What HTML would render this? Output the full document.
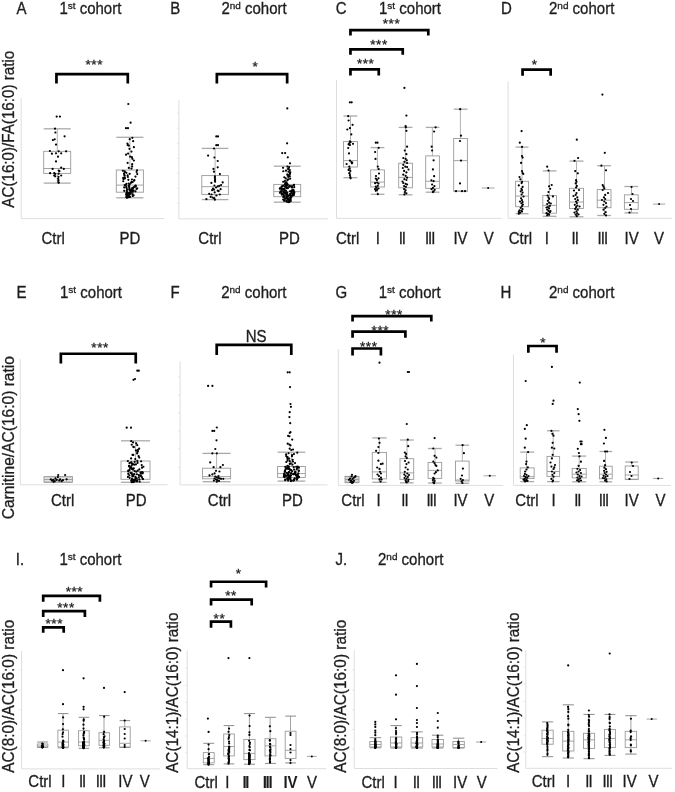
<!DOCTYPE html>
<html><head><meta charset="utf-8"><style>
html,body{margin:0;padding:0;background:#fff;}
body{width:675px;height:792px;overflow:hidden;}
svg{display:block;font-family:"Liberation Sans", sans-serif;}
svg text{fill:#1e1e1e;stroke:#1e1e1e;stroke-width:0.3px;}
</style></head><body>
<svg width="675" height="792" viewBox="0 0 675 792">
<defs><filter id="soft" x="0" y="0" width="1" height="1"><feGaussianBlur stdDeviation="0.3"/></filter></defs>
<rect width="675" height="792" fill="#fff"/>
<g filter="url(#soft)">
<rect width="675" height="792" fill="#fff"/>
<line x1="21.20" y1="98.00" x2="21.20" y2="218.60" stroke="#dedede" stroke-width="1" />
<line x1="21.20" y1="218.60" x2="164.00" y2="218.60" stroke="#dedede" stroke-width="1" />
<line x1="57.30" y1="128.80" x2="57.30" y2="151.30" stroke="#a0a0a0" stroke-width="0.8" />
<line x1="57.30" y1="173.40" x2="57.30" y2="183.10" stroke="#a0a0a0" stroke-width="0.8" />
<line x1="43.70" y1="128.80" x2="70.70" y2="128.80" stroke="#aaaaaa" stroke-width="1.3" />
<line x1="43.70" y1="183.10" x2="70.70" y2="183.10" stroke="#aaaaaa" stroke-width="1.3" />
<rect x="43.70" y="151.30" width="27.00" height="22.10" fill="none" stroke="#9a9a9a" stroke-width="0.9"/>
<line x1="43.70" y1="168.50" x2="70.70" y2="168.50" stroke="#9a9a9a" stroke-width="0.9" />
<circle cx="56.70" cy="116.60" r="1.1"/>
<circle cx="59.90" cy="116.60" r="1.1"/>
<circle cx="55.00" cy="128.70" r="1.1"/>
<circle cx="55.40" cy="132.50" r="1.1"/>
<circle cx="64.60" cy="136.30" r="1.1"/>
<circle cx="52.90" cy="140.10" r="1.1"/>
<circle cx="54.70" cy="139.30" r="1.1"/>
<circle cx="56.00" cy="144.60" r="1.1"/>
<circle cx="49.90" cy="151.00" r="1.1"/>
<circle cx="58.70" cy="151.30" r="1.1"/>
<circle cx="66.10" cy="151.30" r="1.1"/>
<circle cx="51.90" cy="153.70" r="1.1"/>
<circle cx="56.00" cy="153.30" r="1.1"/>
<circle cx="61.20" cy="153.30" r="1.1"/>
<circle cx="58.00" cy="156.70" r="1.1"/>
<circle cx="56.00" cy="161.40" r="1.1"/>
<circle cx="52.60" cy="168.90" r="1.1"/>
<circle cx="61.20" cy="167.70" r="1.1"/>
<circle cx="63.80" cy="168.90" r="1.1"/>
<circle cx="58.70" cy="170.50" r="1.1"/>
<circle cx="59.40" cy="171.20" r="1.1"/>
<circle cx="50.10" cy="173.20" r="1.1"/>
<circle cx="54.20" cy="173.20" r="1.1"/>
<circle cx="55.20" cy="173.90" r="1.1"/>
<circle cx="58.70" cy="173.70" r="1.1"/>
<circle cx="61.20" cy="175.50" r="1.1"/>
<circle cx="54.20" cy="175.50" r="1.1"/>
<circle cx="55.20" cy="176.30" r="1.1"/>
<circle cx="58.50" cy="176.80" r="1.1"/>
<circle cx="58.20" cy="178.80" r="1.1"/>
<circle cx="58.50" cy="180.30" r="1.1"/>
<circle cx="58.40" cy="182.00" r="1.1"/>
<circle cx="58.70" cy="182.80" r="1.1"/>
<line x1="129.90" y1="137.30" x2="129.90" y2="170.00" stroke="#a0a0a0" stroke-width="0.8" />
<line x1="129.90" y1="192.20" x2="129.90" y2="197.80" stroke="#a0a0a0" stroke-width="0.8" />
<line x1="116.30" y1="137.30" x2="143.40" y2="137.30" stroke="#aaaaaa" stroke-width="1.3" />
<line x1="116.30" y1="197.80" x2="143.40" y2="197.80" stroke="#aaaaaa" stroke-width="1.3" />
<rect x="116.30" y="170.00" width="27.10" height="22.20" fill="none" stroke="#9a9a9a" stroke-width="0.9"/>
<line x1="116.30" y1="185.10" x2="143.40" y2="185.10" stroke="#9a9a9a" stroke-width="0.9" />
<circle cx="128.30" cy="104.00" r="1.1"/>
<circle cx="130.60" cy="122.70" r="1.1"/>
<circle cx="126.00" cy="128.20" r="1.1"/>
<circle cx="128.00" cy="128.20" r="1.1"/>
<circle cx="127.04" cy="197.71" r="1.1"/>
<circle cx="126.39" cy="197.34" r="1.1"/>
<circle cx="128.80" cy="197.09" r="1.1"/>
<circle cx="129.96" cy="196.94" r="1.1"/>
<circle cx="129.36" cy="196.67" r="1.1"/>
<circle cx="126.54" cy="196.38" r="1.1"/>
<circle cx="132.58" cy="196.00" r="1.1"/>
<circle cx="127.63" cy="195.81" r="1.1"/>
<circle cx="133.57" cy="195.38" r="1.1"/>
<circle cx="129.05" cy="195.12" r="1.1"/>
<circle cx="126.18" cy="194.73" r="1.1"/>
<circle cx="128.18" cy="194.48" r="1.1"/>
<circle cx="126.77" cy="194.40" r="1.1"/>
<circle cx="132.49" cy="194.07" r="1.1"/>
<circle cx="130.57" cy="193.83" r="1.1"/>
<circle cx="128.85" cy="193.42" r="1.1"/>
<circle cx="126.32" cy="193.17" r="1.1"/>
<circle cx="127.49" cy="193.02" r="1.1"/>
<circle cx="129.31" cy="192.57" r="1.1"/>
<circle cx="130.60" cy="192.39" r="1.1"/>
<circle cx="126.92" cy="192.09" r="1.1"/>
<circle cx="132.87" cy="191.78" r="1.1"/>
<circle cx="131.01" cy="191.67" r="1.1"/>
<circle cx="135.49" cy="191.37" r="1.1"/>
<circle cx="126.74" cy="191.08" r="1.1"/>
<circle cx="124.21" cy="190.78" r="1.1"/>
<circle cx="133.73" cy="190.68" r="1.1"/>
<circle cx="129.74" cy="190.51" r="1.1"/>
<circle cx="132.41" cy="190.30" r="1.1"/>
<circle cx="130.99" cy="189.89" r="1.1"/>
<circle cx="127.12" cy="189.63" r="1.1"/>
<circle cx="131.31" cy="189.43" r="1.1"/>
<circle cx="129.25" cy="189.22" r="1.1"/>
<circle cx="136.53" cy="188.92" r="1.1"/>
<circle cx="132.35" cy="188.77" r="1.1"/>
<circle cx="132.90" cy="188.64" r="1.1"/>
<circle cx="137.25" cy="188.26" r="1.1"/>
<circle cx="126.69" cy="187.98" r="1.1"/>
<circle cx="132.41" cy="187.85" r="1.1"/>
<circle cx="129.33" cy="187.70" r="1.1"/>
<circle cx="124.19" cy="187.43" r="1.1"/>
<circle cx="133.90" cy="187.22" r="1.1"/>
<circle cx="126.14" cy="186.96" r="1.1"/>
<circle cx="135.44" cy="186.66" r="1.1"/>
<circle cx="129.14" cy="186.50" r="1.1"/>
<circle cx="135.61" cy="186.15" r="1.1"/>
<circle cx="135.33" cy="185.85" r="1.1"/>
<circle cx="128.64" cy="185.74" r="1.1"/>
<circle cx="135.63" cy="185.49" r="1.1"/>
<circle cx="124.70" cy="185.11" r="1.1"/>
<circle cx="125.90" cy="185.01" r="1.1"/>
<circle cx="129.68" cy="184.48" r="1.1"/>
<circle cx="126.36" cy="183.80" r="1.1"/>
<circle cx="128.69" cy="183.59" r="1.1"/>
<circle cx="130.89" cy="182.90" r="1.1"/>
<circle cx="132.74" cy="182.10" r="1.1"/>
<circle cx="131.65" cy="181.82" r="1.1"/>
<circle cx="123.25" cy="181.24" r="1.1"/>
<circle cx="134.07" cy="180.62" r="1.1"/>
<circle cx="134.34" cy="180.13" r="1.1"/>
<circle cx="128.39" cy="179.87" r="1.1"/>
<circle cx="131.90" cy="179.51" r="1.1"/>
<circle cx="123.45" cy="179.03" r="1.1"/>
<circle cx="124.87" cy="178.45" r="1.1"/>
<circle cx="123.23" cy="177.88" r="1.1"/>
<circle cx="124.70" cy="177.55" r="1.1"/>
<circle cx="127.87" cy="177.00" r="1.1"/>
<circle cx="135.48" cy="176.53" r="1.1"/>
<circle cx="124.66" cy="175.73" r="1.1"/>
<circle cx="127.63" cy="175.41" r="1.1"/>
<circle cx="124.28" cy="174.85" r="1.1"/>
<circle cx="137.25" cy="174.10" r="1.1"/>
<circle cx="129.66" cy="173.79" r="1.1"/>
<circle cx="123.97" cy="173.48" r="1.1"/>
<circle cx="126.39" cy="172.85" r="1.1"/>
<circle cx="124.85" cy="172.10" r="1.1"/>
<circle cx="136.62" cy="172.00" r="1.1"/>
<circle cx="124.63" cy="171.24" r="1.1"/>
<circle cx="122.85" cy="170.73" r="1.1"/>
<circle cx="137.03" cy="170.24" r="1.1"/>
<circle cx="131.51" cy="168.59" r="1.1"/>
<circle cx="128.81" cy="167.94" r="1.1"/>
<circle cx="132.13" cy="166.46" r="1.1"/>
<circle cx="132.19" cy="164.22" r="1.1"/>
<circle cx="127.63" cy="162.92" r="1.1"/>
<circle cx="133.88" cy="160.50" r="1.1"/>
<circle cx="132.41" cy="158.80" r="1.1"/>
<circle cx="131.87" cy="157.22" r="1.1"/>
<circle cx="130.04" cy="156.55" r="1.1"/>
<circle cx="126.04" cy="154.70" r="1.1"/>
<circle cx="128.09" cy="153.60" r="1.1"/>
<circle cx="131.48" cy="151.59" r="1.1"/>
<circle cx="129.47" cy="148.82" r="1.1"/>
<circle cx="133.90" cy="147.21" r="1.1"/>
<circle cx="128.79" cy="145.55" r="1.1"/>
<circle cx="127.66" cy="145.11" r="1.1"/>
<circle cx="127.48" cy="143.52" r="1.1"/>
<circle cx="133.18" cy="141.18" r="1.1"/>
<circle cx="129.73" cy="139.20" r="1.1"/>
<circle cx="132.36" cy="137.87" r="1.1"/>
<path d="M56.45,83.40 V74.20 H127.80 V83.40" fill="none" stroke="#000" stroke-width="2.7" stroke-linejoin="miter"/>
<text x="94.30" y="69.00" font-size="13.5" text-anchor="middle" letter-spacing="0.6">***</text>
<text x="0" y="0" transform="translate(53.10,243.70) scale(1,1.08)" font-size="15" text-anchor="middle" >Ctrl</text>
<text x="0" y="0" transform="translate(130.00,243.70) scale(1,1.08)" font-size="15" text-anchor="middle" >PD</text>
<text x="0" y="0" font-size="15.5" text-anchor="middle" textLength="157.0" lengthAdjust="spacingAndGlyphs" transform="translate(14.00,129.20) rotate(-90) scale(1,1.05)">AC(16:0)/FA(16:0) ratio</text>
<line x1="178.90" y1="100.00" x2="178.90" y2="218.80" stroke="#dedede" stroke-width="1" />
<line x1="178.90" y1="218.80" x2="328.00" y2="218.80" stroke="#dedede" stroke-width="1" />
<line x1="176.90" y1="113.30" x2="178.90" y2="113.30" stroke="#e2e2e2" stroke-width="1" />
<line x1="176.90" y1="128.20" x2="178.90" y2="128.20" stroke="#e2e2e2" stroke-width="1" />
<line x1="176.90" y1="143.30" x2="178.90" y2="143.30" stroke="#e2e2e2" stroke-width="1" />
<line x1="176.90" y1="158.40" x2="178.90" y2="158.40" stroke="#e2e2e2" stroke-width="1" />
<line x1="176.90" y1="173.30" x2="178.90" y2="173.30" stroke="#e2e2e2" stroke-width="1" />
<line x1="176.90" y1="188.40" x2="178.90" y2="188.40" stroke="#e2e2e2" stroke-width="1" />
<line x1="176.90" y1="203.30" x2="178.90" y2="203.30" stroke="#e2e2e2" stroke-width="1" />
<line x1="215.10" y1="148.40" x2="215.10" y2="175.60" stroke="#a0a0a0" stroke-width="0.8" />
<line x1="215.10" y1="194.40" x2="215.10" y2="199.60" stroke="#a0a0a0" stroke-width="0.8" />
<line x1="201.80" y1="148.40" x2="228.40" y2="148.40" stroke="#aaaaaa" stroke-width="1.3" />
<line x1="201.80" y1="199.60" x2="228.40" y2="199.60" stroke="#aaaaaa" stroke-width="1.3" />
<rect x="201.80" y="175.60" width="26.60" height="18.80" fill="none" stroke="#9a9a9a" stroke-width="0.9"/>
<line x1="201.80" y1="186.70" x2="228.40" y2="186.70" stroke="#9a9a9a" stroke-width="0.9" />
<circle cx="216.30" cy="136.40" r="1.1"/>
<circle cx="218.00" cy="136.40" r="1.1"/>
<circle cx="216.30" cy="145.20" r="1.1"/>
<circle cx="218.00" cy="145.20" r="1.1"/>
<circle cx="214.00" cy="148.50" r="1.1"/>
<circle cx="208.10" cy="155.60" r="1.1"/>
<circle cx="214.40" cy="157.50" r="1.1"/>
<circle cx="217.70" cy="161.00" r="1.1"/>
<circle cx="217.70" cy="167.30" r="1.1"/>
<circle cx="213.50" cy="168.90" r="1.1"/>
<circle cx="214.00" cy="171.70" r="1.1"/>
<circle cx="219.90" cy="174.10" r="1.1"/>
<circle cx="214.90" cy="176.40" r="1.1"/>
<circle cx="214.90" cy="177.90" r="1.1"/>
<circle cx="215.10" cy="179.30" r="1.1"/>
<circle cx="214.90" cy="180.70" r="1.1"/>
<circle cx="215.10" cy="181.70" r="1.1"/>
<circle cx="211.40" cy="182.90" r="1.1"/>
<circle cx="222.70" cy="182.40" r="1.1"/>
<circle cx="214.40" cy="185.50" r="1.1"/>
<circle cx="217.70" cy="186.40" r="1.1"/>
<circle cx="221.10" cy="185.00" r="1.1"/>
<circle cx="219.20" cy="185.90" r="1.1"/>
<circle cx="212.10" cy="190.20" r="1.1"/>
<circle cx="214.00" cy="189.70" r="1.1"/>
<circle cx="217.70" cy="190.70" r="1.1"/>
<circle cx="218.70" cy="191.10" r="1.1"/>
<circle cx="220.60" cy="189.20" r="1.1"/>
<circle cx="214.70" cy="192.40" r="1.1"/>
<circle cx="209.20" cy="193.80" r="1.1"/>
<circle cx="211.60" cy="194.50" r="1.1"/>
<circle cx="219.80" cy="194.50" r="1.1"/>
<circle cx="210.60" cy="196.80" r="1.1"/>
<circle cx="212.50" cy="197.50" r="1.1"/>
<circle cx="214.00" cy="198.20" r="1.1"/>
<circle cx="214.90" cy="199.70" r="1.1"/>
<circle cx="206.40" cy="199.20" r="1.1"/>
<circle cx="216.00" cy="187.50" r="1.1"/>
<circle cx="213.00" cy="188.50" r="1.1"/>
<circle cx="216.50" cy="195.50" r="1.1"/>
<line x1="287.10" y1="166.20" x2="287.10" y2="184.40" stroke="#a0a0a0" stroke-width="0.8" />
<line x1="287.10" y1="196.70" x2="287.10" y2="202.20" stroke="#a0a0a0" stroke-width="0.8" />
<line x1="273.80" y1="166.20" x2="300.70" y2="166.20" stroke="#aaaaaa" stroke-width="1.3" />
<line x1="273.80" y1="202.20" x2="300.70" y2="202.20" stroke="#aaaaaa" stroke-width="1.3" />
<rect x="273.80" y="184.40" width="26.90" height="12.30" fill="none" stroke="#9a9a9a" stroke-width="0.9"/>
<line x1="273.80" y1="191.60" x2="300.70" y2="191.60" stroke="#9a9a9a" stroke-width="0.9" />
<circle cx="287.30" cy="108.40" r="1.1"/>
<circle cx="287.10" cy="143.30" r="1.1"/>
<circle cx="282.20" cy="153.10" r="1.1"/>
<circle cx="285.10" cy="153.10" r="1.1"/>
<circle cx="287.80" cy="157.30" r="1.1"/>
<circle cx="290.00" cy="163.30" r="1.1"/>
<circle cx="288.41" cy="202.18" r="1.1"/>
<circle cx="289.40" cy="201.82" r="1.1"/>
<circle cx="286.92" cy="201.66" r="1.1"/>
<circle cx="289.45" cy="201.58" r="1.1"/>
<circle cx="289.55" cy="201.35" r="1.1"/>
<circle cx="286.25" cy="201.03" r="1.1"/>
<circle cx="290.74" cy="200.94" r="1.1"/>
<circle cx="284.41" cy="200.68" r="1.1"/>
<circle cx="284.26" cy="200.60" r="1.1"/>
<circle cx="289.59" cy="200.25" r="1.1"/>
<circle cx="289.76" cy="200.21" r="1.1"/>
<circle cx="288.38" cy="199.85" r="1.1"/>
<circle cx="287.50" cy="199.77" r="1.1"/>
<circle cx="283.15" cy="199.62" r="1.1"/>
<circle cx="288.32" cy="199.26" r="1.1"/>
<circle cx="290.63" cy="199.15" r="1.1"/>
<circle cx="290.12" cy="198.97" r="1.1"/>
<circle cx="284.75" cy="198.70" r="1.1"/>
<circle cx="285.42" cy="198.61" r="1.1"/>
<circle cx="287.80" cy="198.42" r="1.1"/>
<circle cx="286.44" cy="198.22" r="1.1"/>
<circle cx="290.44" cy="198.05" r="1.1"/>
<circle cx="286.76" cy="197.81" r="1.1"/>
<circle cx="290.39" cy="197.57" r="1.1"/>
<circle cx="290.50" cy="197.40" r="1.1"/>
<circle cx="287.36" cy="197.19" r="1.1"/>
<circle cx="283.18" cy="196.99" r="1.1"/>
<circle cx="284.52" cy="196.81" r="1.1"/>
<circle cx="291.53" cy="196.70" r="1.1"/>
<circle cx="286.71" cy="196.56" r="1.1"/>
<circle cx="287.94" cy="196.37" r="1.1"/>
<circle cx="287.37" cy="196.30" r="1.1"/>
<circle cx="291.31" cy="196.15" r="1.1"/>
<circle cx="287.99" cy="196.08" r="1.1"/>
<circle cx="283.80" cy="195.94" r="1.1"/>
<circle cx="287.21" cy="195.76" r="1.1"/>
<circle cx="290.95" cy="195.66" r="1.1"/>
<circle cx="286.26" cy="195.50" r="1.1"/>
<circle cx="287.18" cy="195.41" r="1.1"/>
<circle cx="289.95" cy="195.30" r="1.1"/>
<circle cx="287.59" cy="195.19" r="1.1"/>
<circle cx="293.63" cy="195.06" r="1.1"/>
<circle cx="292.67" cy="194.92" r="1.1"/>
<circle cx="283.54" cy="194.76" r="1.1"/>
<circle cx="293.66" cy="194.69" r="1.1"/>
<circle cx="281.73" cy="194.53" r="1.1"/>
<circle cx="286.24" cy="194.50" r="1.1"/>
<circle cx="283.26" cy="194.38" r="1.1"/>
<circle cx="289.61" cy="194.26" r="1.1"/>
<circle cx="292.97" cy="194.05" r="1.1"/>
<circle cx="290.30" cy="194.01" r="1.1"/>
<circle cx="281.82" cy="193.83" r="1.1"/>
<circle cx="294.02" cy="193.68" r="1.1"/>
<circle cx="293.79" cy="193.64" r="1.1"/>
<circle cx="286.91" cy="193.49" r="1.1"/>
<circle cx="292.02" cy="193.30" r="1.1"/>
<circle cx="286.09" cy="193.28" r="1.1"/>
<circle cx="284.72" cy="193.12" r="1.1"/>
<circle cx="284.42" cy="193.03" r="1.1"/>
<circle cx="279.99" cy="192.85" r="1.1"/>
<circle cx="286.22" cy="192.75" r="1.1"/>
<circle cx="284.61" cy="192.69" r="1.1"/>
<circle cx="287.28" cy="192.50" r="1.1"/>
<circle cx="294.28" cy="192.44" r="1.1"/>
<circle cx="294.08" cy="192.23" r="1.1"/>
<circle cx="283.63" cy="192.19" r="1.1"/>
<circle cx="291.23" cy="192.08" r="1.1"/>
<circle cx="281.62" cy="191.93" r="1.1"/>
<circle cx="293.19" cy="191.79" r="1.1"/>
<circle cx="283.53" cy="191.62" r="1.1"/>
<circle cx="293.30" cy="191.57" r="1.1"/>
<circle cx="290.07" cy="191.33" r="1.1"/>
<circle cx="280.55" cy="191.24" r="1.1"/>
<circle cx="286.00" cy="190.97" r="1.1"/>
<circle cx="293.59" cy="190.90" r="1.1"/>
<circle cx="291.56" cy="190.63" r="1.1"/>
<circle cx="292.37" cy="190.56" r="1.1"/>
<circle cx="292.47" cy="190.39" r="1.1"/>
<circle cx="284.72" cy="190.15" r="1.1"/>
<circle cx="293.41" cy="189.96" r="1.1"/>
<circle cx="281.61" cy="189.84" r="1.1"/>
<circle cx="283.23" cy="189.62" r="1.1"/>
<circle cx="282.09" cy="189.52" r="1.1"/>
<circle cx="282.69" cy="189.36" r="1.1"/>
<circle cx="284.22" cy="189.15" r="1.1"/>
<circle cx="283.99" cy="188.90" r="1.1"/>
<circle cx="282.33" cy="188.77" r="1.1"/>
<circle cx="279.97" cy="188.63" r="1.1"/>
<circle cx="279.93" cy="188.47" r="1.1"/>
<circle cx="287.86" cy="188.22" r="1.1"/>
<circle cx="286.73" cy="188.14" r="1.1"/>
<circle cx="281.27" cy="187.84" r="1.1"/>
<circle cx="286.10" cy="187.69" r="1.1"/>
<circle cx="292.05" cy="187.57" r="1.1"/>
<circle cx="287.20" cy="187.42" r="1.1"/>
<circle cx="294.24" cy="187.20" r="1.1"/>
<circle cx="292.02" cy="187.08" r="1.1"/>
<circle cx="289.11" cy="186.85" r="1.1"/>
<circle cx="284.84" cy="186.73" r="1.1"/>
<circle cx="281.62" cy="186.62" r="1.1"/>
<circle cx="290.66" cy="186.45" r="1.1"/>
<circle cx="282.12" cy="186.24" r="1.1"/>
<circle cx="292.15" cy="186.10" r="1.1"/>
<circle cx="289.62" cy="185.79" r="1.1"/>
<circle cx="283.29" cy="185.72" r="1.1"/>
<circle cx="286.50" cy="185.55" r="1.1"/>
<circle cx="286.30" cy="185.40" r="1.1"/>
<circle cx="293.93" cy="185.21" r="1.1"/>
<circle cx="287.80" cy="184.92" r="1.1"/>
<circle cx="293.99" cy="184.87" r="1.1"/>
<circle cx="284.98" cy="184.69" r="1.1"/>
<circle cx="285.35" cy="184.57" r="1.1"/>
<circle cx="287.12" cy="184.09" r="1.1"/>
<circle cx="287.14" cy="183.62" r="1.1"/>
<circle cx="285.18" cy="183.10" r="1.1"/>
<circle cx="286.28" cy="182.39" r="1.1"/>
<circle cx="283.21" cy="181.77" r="1.1"/>
<circle cx="284.93" cy="180.95" r="1.1"/>
<circle cx="287.34" cy="180.12" r="1.1"/>
<circle cx="288.38" cy="179.36" r="1.1"/>
<circle cx="290.18" cy="178.73" r="1.1"/>
<circle cx="285.69" cy="178.30" r="1.1"/>
<circle cx="284.25" cy="177.26" r="1.1"/>
<circle cx="288.27" cy="176.78" r="1.1"/>
<circle cx="289.83" cy="176.57" r="1.1"/>
<circle cx="288.14" cy="175.37" r="1.1"/>
<circle cx="289.64" cy="174.82" r="1.1"/>
<circle cx="287.29" cy="174.56" r="1.1"/>
<circle cx="289.83" cy="173.67" r="1.1"/>
<circle cx="289.76" cy="172.83" r="1.1"/>
<circle cx="290.30" cy="172.32" r="1.1"/>
<circle cx="288.67" cy="171.61" r="1.1"/>
<circle cx="283.28" cy="171.25" r="1.1"/>
<circle cx="285.97" cy="170.66" r="1.1"/>
<circle cx="289.83" cy="170.03" r="1.1"/>
<circle cx="288.14" cy="169.09" r="1.1"/>
<circle cx="288.57" cy="168.39" r="1.1"/>
<circle cx="283.06" cy="167.83" r="1.1"/>
<circle cx="289.12" cy="166.98" r="1.1"/>
<circle cx="287.39" cy="166.52" r="1.1"/>
<path d="M216.85,83.40 V74.20 H287.15 V83.40" fill="none" stroke="#000" stroke-width="2.7" stroke-linejoin="miter"/>
<text x="255.50" y="70.50" font-size="13.5" text-anchor="middle" letter-spacing="0.6">*</text>
<text x="0" y="0" transform="translate(210.00,243.70) scale(1,1.08)" font-size="15" text-anchor="middle" >Ctrl</text>
<text x="0" y="0" transform="translate(289.50,243.70) scale(1,1.08)" font-size="15" text-anchor="middle" >PD</text>
<line x1="336.50" y1="80.00" x2="336.50" y2="218.40" stroke="#dedede" stroke-width="1" />
<line x1="336.50" y1="218.40" x2="501.70" y2="218.40" stroke="#dedede" stroke-width="1" />
<line x1="350.50" y1="116.00" x2="350.50" y2="141.60" stroke="#a0a0a0" stroke-width="0.8" />
<line x1="350.50" y1="167.00" x2="350.50" y2="177.70" stroke="#a0a0a0" stroke-width="0.8" />
<line x1="343.50" y1="116.00" x2="357.50" y2="116.00" stroke="#aaaaaa" stroke-width="1.3" />
<line x1="343.50" y1="177.70" x2="357.50" y2="177.70" stroke="#aaaaaa" stroke-width="1.3" />
<rect x="343.50" y="141.60" width="14.00" height="25.40" fill="none" stroke="#9a9a9a" stroke-width="0.9"/>
<line x1="343.50" y1="160.60" x2="357.50" y2="160.60" stroke="#9a9a9a" stroke-width="0.9" />
<circle cx="349.90" cy="102.30" r="1.1"/>
<circle cx="351.70" cy="102.30" r="1.1"/>
<circle cx="348.20" cy="116.20" r="1.1"/>
<circle cx="348.60" cy="120.50" r="1.1"/>
<circle cx="352.60" cy="124.80" r="1.1"/>
<circle cx="347.30" cy="129.50" r="1.1"/>
<circle cx="349.90" cy="128.20" r="1.1"/>
<circle cx="351.30" cy="134.40" r="1.1"/>
<circle cx="349.90" cy="141.40" r="1.1"/>
<circle cx="350.60" cy="142.10" r="1.1"/>
<circle cx="349.30" cy="143.40" r="1.1"/>
<circle cx="353.00" cy="143.80" r="1.1"/>
<circle cx="348.60" cy="144.30" r="1.1"/>
<circle cx="349.90" cy="145.10" r="1.1"/>
<circle cx="348.20" cy="148.00" r="1.1"/>
<circle cx="349.00" cy="153.40" r="1.1"/>
<circle cx="349.90" cy="160.60" r="1.1"/>
<circle cx="351.30" cy="162.00" r="1.1"/>
<circle cx="352.20" cy="162.60" r="1.1"/>
<circle cx="346.60" cy="164.00" r="1.1"/>
<circle cx="351.90" cy="163.30" r="1.1"/>
<circle cx="349.30" cy="166.60" r="1.1"/>
<circle cx="349.50" cy="168.60" r="1.1"/>
<circle cx="348.60" cy="169.90" r="1.1"/>
<circle cx="350.30" cy="170.90" r="1.1"/>
<circle cx="349.30" cy="173.20" r="1.1"/>
<circle cx="349.90" cy="175.20" r="1.1"/>
<circle cx="350.30" cy="177.20" r="1.1"/>
<circle cx="350.60" cy="178.30" r="1.1"/>
<line x1="377.40" y1="147.60" x2="377.40" y2="169.90" stroke="#a0a0a0" stroke-width="0.8" />
<line x1="377.40" y1="187.00" x2="377.40" y2="194.30" stroke="#a0a0a0" stroke-width="0.8" />
<line x1="370.70" y1="147.60" x2="384.40" y2="147.60" stroke="#aaaaaa" stroke-width="1.3" />
<line x1="370.70" y1="194.30" x2="384.40" y2="194.30" stroke="#aaaaaa" stroke-width="1.3" />
<rect x="370.70" y="169.90" width="13.70" height="17.10" fill="none" stroke="#9a9a9a" stroke-width="0.9"/>
<line x1="370.70" y1="182.10" x2="384.40" y2="182.10" stroke="#9a9a9a" stroke-width="0.9" />
<circle cx="375.80" cy="142.70" r="1.1"/>
<circle cx="377.50" cy="142.70" r="1.1"/>
<circle cx="378.70" cy="147.80" r="1.1"/>
<circle cx="375.10" cy="152.00" r="1.1"/>
<circle cx="375.50" cy="158.90" r="1.1"/>
<circle cx="377.80" cy="166.60" r="1.1"/>
<circle cx="378.70" cy="169.00" r="1.1"/>
<circle cx="375.80" cy="178.60" r="1.1"/>
<circle cx="378.50" cy="178.30" r="1.1"/>
<circle cx="376.90" cy="179.90" r="1.1"/>
<circle cx="375.10" cy="183.20" r="1.1"/>
<circle cx="377.10" cy="182.50" r="1.1"/>
<circle cx="378.50" cy="183.60" r="1.1"/>
<circle cx="375.80" cy="186.50" r="1.1"/>
<circle cx="377.80" cy="185.80" r="1.1"/>
<circle cx="376.50" cy="187.80" r="1.1"/>
<circle cx="375.10" cy="189.20" r="1.1"/>
<circle cx="377.10" cy="189.80" r="1.1"/>
<circle cx="375.80" cy="190.80" r="1.1"/>
<circle cx="378.50" cy="188.50" r="1.1"/>
<circle cx="377.80" cy="194.20" r="1.1"/>
<circle cx="376.00" cy="176.00" r="1.1"/>
<circle cx="379.00" cy="173.50" r="1.1"/>
<line x1="405.40" y1="127.40" x2="405.40" y2="163.20" stroke="#a0a0a0" stroke-width="0.8" />
<line x1="405.40" y1="187.80" x2="405.40" y2="194.80" stroke="#a0a0a0" stroke-width="0.8" />
<line x1="398.70" y1="127.40" x2="412.40" y2="127.40" stroke="#aaaaaa" stroke-width="1.3" />
<line x1="398.70" y1="194.80" x2="412.40" y2="194.80" stroke="#aaaaaa" stroke-width="1.3" />
<rect x="398.70" y="163.20" width="13.70" height="24.60" fill="none" stroke="#9a9a9a" stroke-width="0.9"/>
<line x1="398.70" y1="177.40" x2="412.40" y2="177.40" stroke="#9a9a9a" stroke-width="0.9" />
<circle cx="404.40" cy="87.90" r="1.1"/>
<circle cx="406.40" cy="115.60" r="1.1"/>
<circle cx="405.60" cy="126.20" r="1.1"/>
<circle cx="405.90" cy="127.30" r="1.1"/>
<circle cx="406.40" cy="130.80" r="1.1"/>
<circle cx="407.10" cy="146.70" r="1.1"/>
<circle cx="404.80" cy="150.50" r="1.1"/>
<circle cx="406.40" cy="154.20" r="1.1"/>
<circle cx="403.30" cy="158.00" r="1.1"/>
<circle cx="405.60" cy="158.80" r="1.1"/>
<circle cx="406.80" cy="160.30" r="1.1"/>
<circle cx="404.40" cy="161.80" r="1.1"/>
<circle cx="407.10" cy="163.00" r="1.1"/>
<circle cx="403.30" cy="164.80" r="1.1"/>
<circle cx="405.30" cy="166.70" r="1.1"/>
<circle cx="407.10" cy="167.10" r="1.1"/>
<circle cx="404.10" cy="170.90" r="1.1"/>
<circle cx="406.40" cy="172.40" r="1.1"/>
<circle cx="403.30" cy="174.70" r="1.1"/>
<circle cx="405.60" cy="175.80" r="1.1"/>
<circle cx="407.10" cy="177.70" r="1.1"/>
<circle cx="404.40" cy="179.20" r="1.1"/>
<circle cx="406.40" cy="180.00" r="1.1"/>
<circle cx="403.30" cy="183.00" r="1.1"/>
<circle cx="405.60" cy="183.80" r="1.1"/>
<circle cx="407.10" cy="184.50" r="1.1"/>
<circle cx="404.10" cy="186.10" r="1.1"/>
<circle cx="405.90" cy="186.80" r="1.1"/>
<circle cx="404.10" cy="189.10" r="1.1"/>
<circle cx="405.60" cy="190.30" r="1.1"/>
<circle cx="404.80" cy="192.10" r="1.1"/>
<circle cx="406.40" cy="193.30" r="1.1"/>
<circle cx="404.40" cy="194.40" r="1.1"/>
<circle cx="402.50" cy="181.50" r="1.1"/>
<circle cx="408.50" cy="169.50" r="1.1"/>
<circle cx="402.80" cy="168.00" r="1.1"/>
<line x1="432.40" y1="127.40" x2="432.40" y2="155.90" stroke="#a0a0a0" stroke-width="0.8" />
<line x1="432.40" y1="188.30" x2="432.40" y2="192.20" stroke="#a0a0a0" stroke-width="0.8" />
<line x1="425.70" y1="127.40" x2="439.40" y2="127.40" stroke="#aaaaaa" stroke-width="1.3" />
<line x1="425.70" y1="192.20" x2="439.40" y2="192.20" stroke="#aaaaaa" stroke-width="1.3" />
<rect x="425.70" y="155.90" width="13.70" height="32.40" fill="none" stroke="#9a9a9a" stroke-width="0.9"/>
<line x1="425.70" y1="181.30" x2="439.40" y2="181.30" stroke="#9a9a9a" stroke-width="0.9" />
<circle cx="435.60" cy="127.30" r="1.1"/>
<circle cx="434.10" cy="131.50" r="1.1"/>
<circle cx="431.70" cy="146.70" r="1.1"/>
<circle cx="432.10" cy="150.50" r="1.1"/>
<circle cx="433.60" cy="160.30" r="1.1"/>
<circle cx="432.90" cy="169.40" r="1.1"/>
<circle cx="434.10" cy="176.20" r="1.1"/>
<circle cx="431.40" cy="180.30" r="1.1"/>
<circle cx="433.60" cy="181.20" r="1.1"/>
<circle cx="432.10" cy="184.50" r="1.1"/>
<circle cx="434.40" cy="186.10" r="1.1"/>
<circle cx="432.90" cy="187.90" r="1.1"/>
<circle cx="431.40" cy="189.10" r="1.1"/>
<circle cx="434.70" cy="189.80" r="1.1"/>
<circle cx="433.60" cy="191.40" r="1.1"/>
<circle cx="432.90" cy="192.10" r="1.1"/>
<line x1="460.40" y1="109.20" x2="460.40" y2="138.50" stroke="#a0a0a0" stroke-width="0.8" />
<line x1="453.70" y1="109.20" x2="467.40" y2="109.20" stroke="#aaaaaa" stroke-width="1.3" />
<line x1="453.70" y1="191.20" x2="467.40" y2="191.20" stroke="#aaaaaa" stroke-width="1.3" />
<rect x="453.70" y="138.50" width="13.70" height="52.70" fill="none" stroke="#9a9a9a" stroke-width="0.9"/>
<line x1="453.70" y1="160.60" x2="467.40" y2="160.60" stroke="#9a9a9a" stroke-width="0.9" />
<circle cx="460.20" cy="109.20" r="1.1"/>
<circle cx="461.00" cy="135.70" r="1.1"/>
<circle cx="460.00" cy="141.00" r="1.1"/>
<circle cx="461.00" cy="160.60" r="1.1"/>
<circle cx="460.00" cy="183.40" r="1.1"/>
<circle cx="456.00" cy="191.20" r="1.1"/>
<circle cx="462.00" cy="191.20" r="1.1"/>
<circle cx="465.00" cy="191.20" r="1.1"/>
<line x1="481.70" y1="188.00" x2="494.60" y2="188.00" stroke="#9a9a9a" stroke-width="0.9" />
<circle cx="488.15" cy="188.00" r="1.0"/>
<path d="M350.45,35.40 V30.20 H428.30 V35.40" fill="none" stroke="#000" stroke-width="2.7" stroke-linejoin="miter"/>
<text x="391.50" y="28.40" font-size="13.5" text-anchor="middle" letter-spacing="0.6">***</text>
<path d="M350.45,54.70 V49.45 H402.75 V54.70" fill="none" stroke="#000" stroke-width="2.7" stroke-linejoin="miter"/>
<text x="379.00" y="48.70" font-size="13.5" text-anchor="middle" letter-spacing="0.6">***</text>
<path d="M350.45,75.40 V69.45 H378.75 V75.40" fill="none" stroke="#000" stroke-width="2.7" stroke-linejoin="miter"/>
<text x="365.70" y="68.40" font-size="13.5" text-anchor="middle" letter-spacing="0.6">***</text>
<text x="0" y="0" transform="translate(347.60,244.40) scale(1,1.08)" font-size="15" text-anchor="middle" >Ctrl</text>
<text x="0" y="0" transform="translate(377.80,244.40) scale(1,1.08)" font-size="15" text-anchor="middle" >I</text>
<text x="0" y="0" transform="translate(401.80,244.40) scale(1,1.08)" font-size="15" text-anchor="middle" letter-spacing="-1.0">II</text>
<text x="0" y="0" transform="translate(429.70,244.40) scale(1,1.08)" font-size="15" text-anchor="middle" letter-spacing="-1.0">III</text>
<text x="0" y="0" transform="translate(460.50,244.40) scale(1,1.08)" font-size="15" text-anchor="middle" >IV</text>
<text x="0" y="0" transform="translate(488.70,244.40) scale(1,1.08)" font-size="15" text-anchor="middle" >V</text>
<line x1="508.10" y1="81.50" x2="508.10" y2="218.30" stroke="#dedede" stroke-width="1" />
<line x1="508.10" y1="218.30" x2="672.00" y2="218.30" stroke="#dedede" stroke-width="1" />
<line x1="522.00" y1="147.10" x2="522.00" y2="181.30" stroke="#a0a0a0" stroke-width="0.8" />
<line x1="522.00" y1="206.70" x2="522.00" y2="213.70" stroke="#a0a0a0" stroke-width="0.8" />
<line x1="515.60" y1="147.10" x2="528.50" y2="147.10" stroke="#aaaaaa" stroke-width="1.3" />
<line x1="515.60" y1="213.70" x2="528.50" y2="213.70" stroke="#aaaaaa" stroke-width="1.3" />
<rect x="515.60" y="181.30" width="12.90" height="25.40" fill="none" stroke="#9a9a9a" stroke-width="0.9"/>
<line x1="515.60" y1="196.10" x2="528.50" y2="196.10" stroke="#9a9a9a" stroke-width="0.9" />
<circle cx="521.60" cy="131.10" r="1.1"/>
<circle cx="519.80" cy="142.70" r="1.1"/>
<circle cx="522.00" cy="146.90" r="1.1"/>
<circle cx="522.00" cy="156.00" r="1.1"/>
<circle cx="522.60" cy="157.60" r="1.1"/>
<circle cx="521.10" cy="162.90" r="1.1"/>
<circle cx="522.00" cy="171.10" r="1.1"/>
<circle cx="522.60" cy="173.00" r="1.1"/>
<circle cx="523.30" cy="174.00" r="1.1"/>
<circle cx="519.50" cy="177.10" r="1.1"/>
<circle cx="520.40" cy="179.30" r="1.1"/>
<circle cx="522.00" cy="181.90" r="1.1"/>
<circle cx="521.60" cy="183.10" r="1.1"/>
<circle cx="518.80" cy="185.40" r="1.1"/>
<circle cx="522.60" cy="186.90" r="1.1"/>
<circle cx="521.40" cy="188.80" r="1.1"/>
<circle cx="522.00" cy="190.10" r="1.1"/>
<circle cx="520.70" cy="191.30" r="1.1"/>
<circle cx="522.60" cy="192.60" r="1.1"/>
<circle cx="521.60" cy="194.50" r="1.1"/>
<circle cx="521.10" cy="198.30" r="1.1"/>
<circle cx="522.00" cy="200.20" r="1.1"/>
<circle cx="522.60" cy="202.10" r="1.1"/>
<circle cx="521.40" cy="203.30" r="1.1"/>
<circle cx="522.90" cy="204.60" r="1.1"/>
<circle cx="522.00" cy="206.10" r="1.1"/>
<circle cx="520.70" cy="207.80" r="1.1"/>
<circle cx="522.60" cy="209.00" r="1.1"/>
<circle cx="519.50" cy="210.30" r="1.1"/>
<circle cx="521.40" cy="210.90" r="1.1"/>
<circle cx="518.80" cy="211.90" r="1.1"/>
<circle cx="522.00" cy="211.50" r="1.1"/>
<circle cx="520.10" cy="212.80" r="1.1"/>
<circle cx="518.80" cy="213.70" r="1.1"/>
<circle cx="523.50" cy="196.50" r="1.1"/>
<circle cx="520.00" cy="201.50" r="1.1"/>
<line x1="549.30" y1="170.90" x2="549.30" y2="195.60" stroke="#a0a0a0" stroke-width="0.8" />
<line x1="549.30" y1="213.20" x2="549.30" y2="216.30" stroke="#a0a0a0" stroke-width="0.8" />
<line x1="542.80" y1="170.90" x2="556.50" y2="170.90" stroke="#aaaaaa" stroke-width="1.3" />
<line x1="542.80" y1="216.30" x2="556.50" y2="216.30" stroke="#aaaaaa" stroke-width="1.3" />
<rect x="542.80" y="195.60" width="13.70" height="17.60" fill="none" stroke="#9a9a9a" stroke-width="0.9"/>
<line x1="542.80" y1="205.40" x2="556.50" y2="205.40" stroke="#9a9a9a" stroke-width="0.9" />
<circle cx="547.20" cy="166.70" r="1.1"/>
<circle cx="548.50" cy="170.50" r="1.1"/>
<circle cx="551.70" cy="185.00" r="1.1"/>
<circle cx="549.10" cy="186.30" r="1.1"/>
<circle cx="550.20" cy="188.80" r="1.1"/>
<circle cx="548.50" cy="192.00" r="1.1"/>
<circle cx="547.60" cy="195.50" r="1.1"/>
<circle cx="552.90" cy="196.40" r="1.1"/>
<circle cx="548.50" cy="197.30" r="1.1"/>
<circle cx="549.10" cy="198.90" r="1.1"/>
<circle cx="547.90" cy="200.80" r="1.1"/>
<circle cx="549.10" cy="202.70" r="1.1"/>
<circle cx="547.20" cy="204.00" r="1.1"/>
<circle cx="549.80" cy="205.90" r="1.1"/>
<circle cx="547.90" cy="207.10" r="1.1"/>
<circle cx="549.10" cy="208.40" r="1.1"/>
<circle cx="547.20" cy="209.60" r="1.1"/>
<circle cx="548.50" cy="210.90" r="1.1"/>
<circle cx="549.80" cy="212.20" r="1.1"/>
<circle cx="546.60" cy="213.20" r="1.1"/>
<circle cx="547.90" cy="214.10" r="1.1"/>
<circle cx="549.10" cy="214.70" r="1.1"/>
<circle cx="547.20" cy="215.30" r="1.1"/>
<circle cx="550.50" cy="211.00" r="1.1"/>
<circle cx="546.50" cy="207.50" r="1.1"/>
<circle cx="550.80" cy="203.50" r="1.1"/>
<line x1="576.50" y1="161.10" x2="576.50" y2="188.30" stroke="#a0a0a0" stroke-width="0.8" />
<line x1="576.50" y1="208.50" x2="576.50" y2="216.80" stroke="#a0a0a0" stroke-width="0.8" />
<line x1="569.50" y1="161.10" x2="583.50" y2="161.10" stroke="#aaaaaa" stroke-width="1.3" />
<line x1="569.50" y1="216.80" x2="583.50" y2="216.80" stroke="#aaaaaa" stroke-width="1.3" />
<rect x="569.50" y="188.30" width="14.00" height="20.20" fill="none" stroke="#9a9a9a" stroke-width="0.9"/>
<line x1="569.50" y1="202.00" x2="583.50" y2="202.00" stroke="#9a9a9a" stroke-width="0.9" />
<circle cx="576.80" cy="139.70" r="1.1"/>
<circle cx="578.10" cy="158.00" r="1.1"/>
<circle cx="574.50" cy="160.80" r="1.1"/>
<circle cx="575.20" cy="171.10" r="1.1"/>
<circle cx="577.80" cy="173.30" r="1.1"/>
<circle cx="576.10" cy="180.20" r="1.1"/>
<circle cx="576.50" cy="181.80" r="1.1"/>
<circle cx="575.70" cy="183.40" r="1.1"/>
<circle cx="576.80" cy="185.90" r="1.1"/>
<circle cx="576.10" cy="187.50" r="1.1"/>
<circle cx="576.50" cy="193.00" r="1.1"/>
<circle cx="575.70" cy="194.90" r="1.1"/>
<circle cx="577.30" cy="197.40" r="1.1"/>
<circle cx="575.20" cy="199.00" r="1.1"/>
<circle cx="577.80" cy="200.20" r="1.1"/>
<circle cx="576.10" cy="201.50" r="1.1"/>
<circle cx="576.80" cy="203.10" r="1.1"/>
<circle cx="574.80" cy="204.80" r="1.1"/>
<circle cx="577.30" cy="205.60" r="1.1"/>
<circle cx="576.10" cy="207.20" r="1.1"/>
<circle cx="575.20" cy="208.90" r="1.1"/>
<circle cx="577.80" cy="209.70" r="1.1"/>
<circle cx="576.50" cy="211.30" r="1.1"/>
<circle cx="574.50" cy="212.60" r="1.1"/>
<circle cx="577.30" cy="213.30" r="1.1"/>
<circle cx="575.70" cy="214.60" r="1.1"/>
<circle cx="576.80" cy="216.20" r="1.1"/>
<circle cx="579.00" cy="190.00" r="1.1"/>
<circle cx="573.50" cy="196.00" r="1.1"/>
<circle cx="579.50" cy="206.50" r="1.1"/>
<circle cx="574.00" cy="190.50" r="1.1"/>
<circle cx="578.50" cy="214.50" r="1.1"/>
<line x1="604.50" y1="165.70" x2="604.50" y2="189.60" stroke="#a0a0a0" stroke-width="0.8" />
<line x1="604.50" y1="207.70" x2="604.50" y2="215.50" stroke="#a0a0a0" stroke-width="0.8" />
<line x1="597.20" y1="165.70" x2="611.00" y2="165.70" stroke="#aaaaaa" stroke-width="1.3" />
<line x1="597.20" y1="215.50" x2="611.00" y2="215.50" stroke="#aaaaaa" stroke-width="1.3" />
<rect x="597.20" y="189.60" width="13.80" height="18.10" fill="none" stroke="#9a9a9a" stroke-width="0.9"/>
<line x1="597.20" y1="200.20" x2="611.00" y2="200.20" stroke="#9a9a9a" stroke-width="0.9" />
<circle cx="602.40" cy="94.60" r="1.1"/>
<circle cx="604.80" cy="152.80" r="1.1"/>
<circle cx="601.40" cy="165.70" r="1.1"/>
<circle cx="606.00" cy="170.30" r="1.1"/>
<circle cx="602.70" cy="185.10" r="1.1"/>
<circle cx="603.50" cy="186.70" r="1.1"/>
<circle cx="604.30" cy="188.40" r="1.1"/>
<circle cx="602.70" cy="190.00" r="1.1"/>
<circle cx="608.00" cy="193.00" r="1.1"/>
<circle cx="605.20" cy="194.90" r="1.1"/>
<circle cx="604.00" cy="197.40" r="1.1"/>
<circle cx="605.20" cy="199.00" r="1.1"/>
<circle cx="604.30" cy="201.50" r="1.1"/>
<circle cx="606.00" cy="203.10" r="1.1"/>
<circle cx="603.50" cy="204.80" r="1.1"/>
<circle cx="605.20" cy="208.00" r="1.1"/>
<circle cx="603.50" cy="209.70" r="1.1"/>
<circle cx="605.70" cy="212.10" r="1.1"/>
<circle cx="604.30" cy="213.80" r="1.1"/>
<circle cx="606.00" cy="215.40" r="1.1"/>
<circle cx="602.00" cy="200.00" r="1.1"/>
<circle cx="606.50" cy="206.50" r="1.1"/>
<line x1="631.50" y1="186.50" x2="631.50" y2="194.80" stroke="#a0a0a0" stroke-width="0.8" />
<line x1="631.50" y1="209.30" x2="631.50" y2="212.90" stroke="#a0a0a0" stroke-width="0.8" />
<line x1="624.40" y1="186.50" x2="638.20" y2="186.50" stroke="#aaaaaa" stroke-width="1.3" />
<line x1="624.40" y1="212.90" x2="638.20" y2="212.90" stroke="#aaaaaa" stroke-width="1.3" />
<rect x="624.40" y="194.80" width="13.80" height="14.50" fill="none" stroke="#9a9a9a" stroke-width="0.9"/>
<line x1="624.40" y1="202.60" x2="638.20" y2="202.60" stroke="#9a9a9a" stroke-width="0.9" />
<circle cx="631.50" cy="187.00" r="1.1"/>
<circle cx="632.50" cy="194.00" r="1.1"/>
<circle cx="631.00" cy="199.00" r="1.1"/>
<circle cx="633.00" cy="201.00" r="1.1"/>
<circle cx="630.00" cy="205.00" r="1.1"/>
<circle cx="631.00" cy="209.00" r="1.1"/>
<circle cx="629.50" cy="212.50" r="1.1"/>
<line x1="653.00" y1="204.10" x2="665.20" y2="204.10" stroke="#9a9a9a" stroke-width="0.9" />
<circle cx="659.10" cy="204.10" r="1.0"/>
<path d="M522.55,75.80 V69.55 H550.65 V75.80" fill="none" stroke="#000" stroke-width="2.7" stroke-linejoin="miter"/>
<text x="534.65" y="69.00" font-size="13.5" text-anchor="middle" letter-spacing="0.6">*</text>
<text x="0" y="0" transform="translate(520.40,244.40) scale(1,1.08)" font-size="15" text-anchor="middle" >Ctrl</text>
<text x="0" y="0" transform="translate(546.80,244.40) scale(1,1.08)" font-size="15" text-anchor="middle" >I</text>
<text x="0" y="0" transform="translate(574.70,244.40) scale(1,1.08)" font-size="15" text-anchor="middle" letter-spacing="-1.0">II</text>
<text x="0" y="0" transform="translate(602.30,244.40) scale(1,1.08)" font-size="15" text-anchor="middle" letter-spacing="-1.0">III</text>
<text x="0" y="0" transform="translate(631.70,244.40) scale(1,1.08)" font-size="15" text-anchor="middle" >IV</text>
<text x="0" y="0" transform="translate(659.10,244.40) scale(1,1.08)" font-size="15" text-anchor="middle" >V</text>
<line x1="20.30" y1="358.90" x2="20.30" y2="484.80" stroke="#dedede" stroke-width="1" />
<line x1="20.30" y1="484.80" x2="167.50" y2="484.80" stroke="#dedede" stroke-width="1" />
<line x1="58.00" y1="482.00" x2="58.00" y2="482.20" stroke="#a0a0a0" stroke-width="0.8" />
<line x1="44.00" y1="476.80" x2="72.50" y2="476.80" stroke="#aaaaaa" stroke-width="1.3" />
<line x1="44.00" y1="482.20" x2="72.50" y2="482.20" stroke="#aaaaaa" stroke-width="1.3" />
<rect x="44.00" y="476.80" width="28.50" height="5.20" fill="#e4e4e4" stroke="#9a9a9a" stroke-width="0.9"/>
<line x1="44.00" y1="479.50" x2="72.50" y2="479.50" stroke="#9a9a9a" stroke-width="0.9" />
<circle cx="58.20" cy="475.00" r="1.1"/>
<circle cx="65.10" cy="475.00" r="1.1"/>
<circle cx="50.80" cy="479.30" r="1.1"/>
<circle cx="52.00" cy="480.60" r="1.1"/>
<circle cx="53.60" cy="481.80" r="1.1"/>
<circle cx="55.40" cy="478.40" r="1.1"/>
<circle cx="56.70" cy="479.90" r="1.1"/>
<circle cx="57.90" cy="477.10" r="1.1"/>
<circle cx="59.20" cy="480.60" r="1.1"/>
<circle cx="60.10" cy="479.30" r="1.1"/>
<circle cx="61.60" cy="481.20" r="1.1"/>
<circle cx="62.90" cy="480.20" r="1.1"/>
<circle cx="66.60" cy="479.30" r="1.1"/>
<circle cx="54.80" cy="481.20" r="1.1"/>
<circle cx="53.20" cy="479.90" r="1.1"/>
<line x1="135.50" y1="440.80" x2="135.50" y2="461.00" stroke="#a0a0a0" stroke-width="0.8" />
<line x1="135.50" y1="479.30" x2="135.50" y2="482.30" stroke="#a0a0a0" stroke-width="0.8" />
<line x1="121.00" y1="440.80" x2="150.00" y2="440.80" stroke="#aaaaaa" stroke-width="1.3" />
<line x1="121.00" y1="482.30" x2="150.00" y2="482.30" stroke="#aaaaaa" stroke-width="1.3" />
<rect x="121.00" y="461.00" width="29.00" height="18.30" fill="none" stroke="#9a9a9a" stroke-width="0.9"/>
<line x1="121.00" y1="471.70" x2="150.00" y2="471.70" stroke="#9a9a9a" stroke-width="0.9" />
<circle cx="137.30" cy="370.70" r="1.1"/>
<circle cx="138.80" cy="370.70" r="1.1"/>
<circle cx="133.50" cy="379.80" r="1.1"/>
<circle cx="135.00" cy="379.00" r="1.1"/>
<circle cx="126.70" cy="427.70" r="1.1"/>
<circle cx="131.00" cy="427.70" r="1.1"/>
<circle cx="131.69" cy="482.20" r="1.1"/>
<circle cx="133.33" cy="482.04" r="1.1"/>
<circle cx="133.44" cy="481.99" r="1.1"/>
<circle cx="132.91" cy="481.74" r="1.1"/>
<circle cx="139.67" cy="481.59" r="1.1"/>
<circle cx="134.47" cy="481.48" r="1.1"/>
<circle cx="137.11" cy="481.33" r="1.1"/>
<circle cx="136.53" cy="481.13" r="1.1"/>
<circle cx="131.79" cy="481.00" r="1.1"/>
<circle cx="133.34" cy="480.93" r="1.1"/>
<circle cx="133.78" cy="480.69" r="1.1"/>
<circle cx="131.22" cy="480.56" r="1.1"/>
<circle cx="133.47" cy="480.49" r="1.1"/>
<circle cx="137.19" cy="480.25" r="1.1"/>
<circle cx="133.67" cy="480.10" r="1.1"/>
<circle cx="135.19" cy="479.97" r="1.1"/>
<circle cx="132.15" cy="479.83" r="1.1"/>
<circle cx="132.86" cy="479.62" r="1.1"/>
<circle cx="139.33" cy="479.45" r="1.1"/>
<circle cx="135.14" cy="479.45" r="1.1"/>
<circle cx="142.97" cy="479.09" r="1.1"/>
<circle cx="131.81" cy="478.93" r="1.1"/>
<circle cx="142.61" cy="478.74" r="1.1"/>
<circle cx="136.80" cy="478.49" r="1.1"/>
<circle cx="135.88" cy="478.25" r="1.1"/>
<circle cx="129.64" cy="477.79" r="1.1"/>
<circle cx="135.64" cy="477.57" r="1.1"/>
<circle cx="138.74" cy="477.30" r="1.1"/>
<circle cx="141.84" cy="477.21" r="1.1"/>
<circle cx="127.92" cy="476.90" r="1.1"/>
<circle cx="135.37" cy="476.77" r="1.1"/>
<circle cx="132.34" cy="476.40" r="1.1"/>
<circle cx="133.01" cy="476.22" r="1.1"/>
<circle cx="140.93" cy="475.93" r="1.1"/>
<circle cx="139.50" cy="475.75" r="1.1"/>
<circle cx="129.44" cy="475.29" r="1.1"/>
<circle cx="138.90" cy="475.01" r="1.1"/>
<circle cx="132.15" cy="474.76" r="1.1"/>
<circle cx="133.79" cy="474.65" r="1.1"/>
<circle cx="136.92" cy="474.23" r="1.1"/>
<circle cx="134.35" cy="474.14" r="1.1"/>
<circle cx="128.29" cy="473.91" r="1.1"/>
<circle cx="140.84" cy="473.70" r="1.1"/>
<circle cx="142.45" cy="473.40" r="1.1"/>
<circle cx="131.76" cy="473.16" r="1.1"/>
<circle cx="130.55" cy="472.84" r="1.1"/>
<circle cx="142.78" cy="472.62" r="1.1"/>
<circle cx="140.48" cy="472.24" r="1.1"/>
<circle cx="142.09" cy="472.05" r="1.1"/>
<circle cx="136.29" cy="471.72" r="1.1"/>
<circle cx="128.31" cy="471.44" r="1.1"/>
<circle cx="134.72" cy="471.08" r="1.1"/>
<circle cx="137.80" cy="470.72" r="1.1"/>
<circle cx="128.31" cy="470.53" r="1.1"/>
<circle cx="129.56" cy="469.94" r="1.1"/>
<circle cx="133.01" cy="469.75" r="1.1"/>
<circle cx="139.31" cy="469.45" r="1.1"/>
<circle cx="131.67" cy="468.86" r="1.1"/>
<circle cx="132.32" cy="468.61" r="1.1"/>
<circle cx="133.82" cy="468.29" r="1.1"/>
<circle cx="130.10" cy="468.07" r="1.1"/>
<circle cx="141.98" cy="467.70" r="1.1"/>
<circle cx="131.03" cy="467.24" r="1.1"/>
<circle cx="143.42" cy="466.74" r="1.1"/>
<circle cx="129.75" cy="466.55" r="1.1"/>
<circle cx="128.97" cy="466.28" r="1.1"/>
<circle cx="128.98" cy="465.87" r="1.1"/>
<circle cx="131.65" cy="465.55" r="1.1"/>
<circle cx="141.68" cy="465.08" r="1.1"/>
<circle cx="134.11" cy="464.66" r="1.1"/>
<circle cx="135.89" cy="464.42" r="1.1"/>
<circle cx="132.92" cy="464.08" r="1.1"/>
<circle cx="131.95" cy="463.83" r="1.1"/>
<circle cx="129.53" cy="463.15" r="1.1"/>
<circle cx="137.57" cy="462.96" r="1.1"/>
<circle cx="130.97" cy="462.48" r="1.1"/>
<circle cx="131.49" cy="462.33" r="1.1"/>
<circle cx="134.64" cy="461.93" r="1.1"/>
<circle cx="141.06" cy="461.37" r="1.1"/>
<circle cx="127.87" cy="461.05" r="1.1"/>
<circle cx="137.34" cy="460.97" r="1.1"/>
<circle cx="135.27" cy="459.09" r="1.1"/>
<circle cx="131.12" cy="458.39" r="1.1"/>
<circle cx="139.24" cy="457.57" r="1.1"/>
<circle cx="138.62" cy="456.13" r="1.1"/>
<circle cx="133.29" cy="454.97" r="1.1"/>
<circle cx="132.47" cy="454.83" r="1.1"/>
<circle cx="137.10" cy="453.40" r="1.1"/>
<circle cx="137.45" cy="451.97" r="1.1"/>
<circle cx="137.82" cy="451.26" r="1.1"/>
<circle cx="135.95" cy="450.44" r="1.1"/>
<circle cx="137.98" cy="449.85" r="1.1"/>
<circle cx="139.18" cy="448.65" r="1.1"/>
<circle cx="133.78" cy="447.22" r="1.1"/>
<circle cx="133.32" cy="446.73" r="1.1"/>
<circle cx="137.24" cy="445.21" r="1.1"/>
<circle cx="131.73" cy="444.73" r="1.1"/>
<circle cx="136.23" cy="443.30" r="1.1"/>
<circle cx="133.08" cy="442.43" r="1.1"/>
<circle cx="131.21" cy="441.20" r="1.1"/>
<path d="M60.85,363.40 V353.75 H135.75 V363.40" fill="none" stroke="#000" stroke-width="2.7" stroke-linejoin="miter"/>
<text x="100.10" y="352.40" font-size="13.5" text-anchor="middle" letter-spacing="0.6">***</text>
<text x="0" y="0" transform="translate(62.70,506.00) scale(1,1.08)" font-size="15" text-anchor="middle" >Ctrl</text>
<text x="0" y="0" transform="translate(136.20,506.00) scale(1,1.08)" font-size="15" text-anchor="middle" >PD</text>
<text x="0" y="0" font-size="15.5" text-anchor="middle" textLength="163.2" lengthAdjust="spacingAndGlyphs" transform="translate(13.90,437.75) rotate(-90) scale(1,1.05)">Carnitine/AC(16:0) ratio</text>
<line x1="180.10" y1="361.50" x2="180.10" y2="484.90" stroke="#dedede" stroke-width="1" />
<line x1="180.10" y1="484.90" x2="327.50" y2="484.90" stroke="#dedede" stroke-width="1" />
<line x1="178.10" y1="377.10" x2="180.10" y2="377.10" stroke="#e2e2e2" stroke-width="1" />
<line x1="178.10" y1="395.00" x2="180.10" y2="395.00" stroke="#e2e2e2" stroke-width="1" />
<line x1="178.10" y1="413.10" x2="180.10" y2="413.10" stroke="#e2e2e2" stroke-width="1" />
<line x1="178.10" y1="430.80" x2="180.10" y2="430.80" stroke="#e2e2e2" stroke-width="1" />
<line x1="178.10" y1="448.90" x2="180.10" y2="448.90" stroke="#e2e2e2" stroke-width="1" />
<line x1="178.10" y1="467.30" x2="180.10" y2="467.30" stroke="#e2e2e2" stroke-width="1" />
<line x1="216.60" y1="453.40" x2="216.60" y2="468.20" stroke="#a0a0a0" stroke-width="0.8" />
<line x1="216.60" y1="478.80" x2="216.60" y2="481.70" stroke="#a0a0a0" stroke-width="0.8" />
<line x1="202.50" y1="453.40" x2="230.60" y2="453.40" stroke="#aaaaaa" stroke-width="1.3" />
<line x1="202.50" y1="481.70" x2="230.60" y2="481.70" stroke="#aaaaaa" stroke-width="1.3" />
<rect x="202.50" y="468.20" width="28.10" height="10.60" fill="none" stroke="#9a9a9a" stroke-width="0.9"/>
<line x1="202.50" y1="476.60" x2="230.60" y2="476.60" stroke="#9a9a9a" stroke-width="0.9" />
<circle cx="208.10" cy="385.90" r="1.1"/>
<circle cx="212.40" cy="385.90" r="1.1"/>
<circle cx="216.80" cy="427.50" r="1.1"/>
<circle cx="212.40" cy="430.90" r="1.1"/>
<circle cx="214.20" cy="430.90" r="1.1"/>
<circle cx="216.50" cy="440.30" r="1.1"/>
<circle cx="215.30" cy="449.00" r="1.1"/>
<circle cx="212.40" cy="453.40" r="1.1"/>
<circle cx="216.80" cy="453.40" r="1.1"/>
<circle cx="210.20" cy="462.40" r="1.1"/>
<circle cx="222.90" cy="465.00" r="1.1"/>
<circle cx="220.40" cy="467.20" r="1.1"/>
<circle cx="213.60" cy="467.20" r="1.1"/>
<circle cx="216.00" cy="470.80" r="1.1"/>
<circle cx="219.40" cy="471.50" r="1.1"/>
<circle cx="214.60" cy="473.40" r="1.1"/>
<circle cx="209.50" cy="475.40" r="1.1"/>
<circle cx="212.40" cy="474.40" r="1.1"/>
<circle cx="215.30" cy="476.60" r="1.1"/>
<circle cx="216.80" cy="477.30" r="1.1"/>
<circle cx="218.20" cy="478.00" r="1.1"/>
<circle cx="219.70" cy="478.30" r="1.1"/>
<circle cx="221.10" cy="478.80" r="1.1"/>
<circle cx="223.30" cy="478.80" r="1.1"/>
<circle cx="216.00" cy="479.50" r="1.1"/>
<circle cx="217.50" cy="480.20" r="1.1"/>
<circle cx="213.90" cy="480.60" r="1.1"/>
<circle cx="219.00" cy="480.90" r="1.1"/>
<circle cx="216.80" cy="481.70" r="1.1"/>
<circle cx="214.50" cy="478.50" r="1.1"/>
<circle cx="218.50" cy="476.00" r="1.1"/>
<line x1="291.40" y1="452.20" x2="291.40" y2="466.50" stroke="#a0a0a0" stroke-width="0.8" />
<line x1="291.40" y1="477.40" x2="291.40" y2="481.10" stroke="#a0a0a0" stroke-width="0.8" />
<line x1="277.60" y1="452.20" x2="305.30" y2="452.20" stroke="#aaaaaa" stroke-width="1.3" />
<line x1="277.60" y1="481.10" x2="305.30" y2="481.10" stroke="#aaaaaa" stroke-width="1.3" />
<rect x="277.60" y="466.50" width="27.70" height="10.90" fill="none" stroke="#9a9a9a" stroke-width="0.9"/>
<line x1="277.60" y1="473.60" x2="305.30" y2="473.60" stroke="#9a9a9a" stroke-width="0.9" />
<circle cx="287.70" cy="372.30" r="1.1"/>
<circle cx="289.70" cy="372.30" r="1.1"/>
<circle cx="290.00" cy="387.10" r="1.1"/>
<circle cx="290.50" cy="404.00" r="1.1"/>
<circle cx="290.90" cy="406.80" r="1.1"/>
<circle cx="289.70" cy="412.20" r="1.1"/>
<circle cx="289.40" cy="417.10" r="1.1"/>
<circle cx="290.20" cy="423.20" r="1.1"/>
<circle cx="290.50" cy="432.20" r="1.1"/>
<circle cx="289.70" cy="433.00" r="1.1"/>
<circle cx="288.10" cy="435.80" r="1.1"/>
<circle cx="289.40" cy="436.30" r="1.1"/>
<circle cx="292.20" cy="439.60" r="1.1"/>
<circle cx="287.70" cy="443.70" r="1.1"/>
<circle cx="289.40" cy="444.60" r="1.1"/>
<circle cx="290.50" cy="445.40" r="1.1"/>
<circle cx="289.70" cy="448.70" r="1.1"/>
<circle cx="291.30" cy="450.00" r="1.1"/>
<circle cx="293.00" cy="449.50" r="1.1"/>
<circle cx="290.89" cy="481.05" r="1.1"/>
<circle cx="293.27" cy="480.77" r="1.1"/>
<circle cx="291.08" cy="480.62" r="1.1"/>
<circle cx="288.12" cy="480.56" r="1.1"/>
<circle cx="294.05" cy="480.27" r="1.1"/>
<circle cx="285.21" cy="480.21" r="1.1"/>
<circle cx="293.66" cy="480.01" r="1.1"/>
<circle cx="288.26" cy="479.85" r="1.1"/>
<circle cx="296.91" cy="479.64" r="1.1"/>
<circle cx="285.37" cy="479.55" r="1.1"/>
<circle cx="290.37" cy="479.36" r="1.1"/>
<circle cx="287.49" cy="479.14" r="1.1"/>
<circle cx="294.50" cy="478.95" r="1.1"/>
<circle cx="287.58" cy="478.83" r="1.1"/>
<circle cx="288.96" cy="478.58" r="1.1"/>
<circle cx="287.91" cy="478.44" r="1.1"/>
<circle cx="294.77" cy="478.37" r="1.1"/>
<circle cx="297.25" cy="478.19" r="1.1"/>
<circle cx="287.35" cy="477.99" r="1.1"/>
<circle cx="290.33" cy="477.87" r="1.1"/>
<circle cx="297.21" cy="477.62" r="1.1"/>
<circle cx="290.02" cy="477.54" r="1.1"/>
<circle cx="298.62" cy="477.38" r="1.1"/>
<circle cx="284.57" cy="477.27" r="1.1"/>
<circle cx="289.77" cy="477.16" r="1.1"/>
<circle cx="297.24" cy="476.95" r="1.1"/>
<circle cx="298.98" cy="476.86" r="1.1"/>
<circle cx="288.80" cy="476.72" r="1.1"/>
<circle cx="298.04" cy="476.69" r="1.1"/>
<circle cx="284.27" cy="476.51" r="1.1"/>
<circle cx="289.55" cy="476.40" r="1.1"/>
<circle cx="288.84" cy="476.32" r="1.1"/>
<circle cx="283.83" cy="476.23" r="1.1"/>
<circle cx="289.14" cy="476.10" r="1.1"/>
<circle cx="285.67" cy="475.91" r="1.1"/>
<circle cx="286.94" cy="475.79" r="1.1"/>
<circle cx="296.30" cy="475.75" r="1.1"/>
<circle cx="290.37" cy="475.58" r="1.1"/>
<circle cx="291.00" cy="475.55" r="1.1"/>
<circle cx="297.79" cy="475.40" r="1.1"/>
<circle cx="289.33" cy="475.31" r="1.1"/>
<circle cx="284.24" cy="475.11" r="1.1"/>
<circle cx="296.15" cy="475.05" r="1.1"/>
<circle cx="284.40" cy="474.89" r="1.1"/>
<circle cx="284.74" cy="474.86" r="1.1"/>
<circle cx="287.70" cy="474.65" r="1.1"/>
<circle cx="297.47" cy="474.55" r="1.1"/>
<circle cx="287.93" cy="474.48" r="1.1"/>
<circle cx="293.18" cy="474.30" r="1.1"/>
<circle cx="294.70" cy="474.26" r="1.1"/>
<circle cx="287.98" cy="474.14" r="1.1"/>
<circle cx="295.29" cy="474.06" r="1.1"/>
<circle cx="293.44" cy="473.84" r="1.1"/>
<circle cx="284.15" cy="473.72" r="1.1"/>
<circle cx="291.02" cy="473.69" r="1.1"/>
<circle cx="298.32" cy="473.39" r="1.1"/>
<circle cx="287.61" cy="473.30" r="1.1"/>
<circle cx="291.30" cy="473.08" r="1.1"/>
<circle cx="286.57" cy="472.75" r="1.1"/>
<circle cx="295.03" cy="472.57" r="1.1"/>
<circle cx="295.56" cy="472.35" r="1.1"/>
<circle cx="288.78" cy="472.18" r="1.1"/>
<circle cx="289.30" cy="472.03" r="1.1"/>
<circle cx="284.99" cy="471.71" r="1.1"/>
<circle cx="295.25" cy="471.62" r="1.1"/>
<circle cx="284.77" cy="471.40" r="1.1"/>
<circle cx="292.20" cy="471.23" r="1.1"/>
<circle cx="298.72" cy="470.95" r="1.1"/>
<circle cx="298.83" cy="470.61" r="1.1"/>
<circle cx="285.06" cy="470.53" r="1.1"/>
<circle cx="291.38" cy="470.35" r="1.1"/>
<circle cx="290.59" cy="470.00" r="1.1"/>
<circle cx="290.13" cy="469.89" r="1.1"/>
<circle cx="294.05" cy="469.59" r="1.1"/>
<circle cx="296.69" cy="469.35" r="1.1"/>
<circle cx="285.63" cy="469.15" r="1.1"/>
<circle cx="288.26" cy="468.90" r="1.1"/>
<circle cx="289.46" cy="468.74" r="1.1"/>
<circle cx="286.82" cy="468.49" r="1.1"/>
<circle cx="287.52" cy="468.38" r="1.1"/>
<circle cx="297.25" cy="468.19" r="1.1"/>
<circle cx="288.75" cy="467.88" r="1.1"/>
<circle cx="298.90" cy="467.71" r="1.1"/>
<circle cx="287.31" cy="467.47" r="1.1"/>
<circle cx="293.74" cy="467.19" r="1.1"/>
<circle cx="285.34" cy="466.93" r="1.1"/>
<circle cx="296.26" cy="466.83" r="1.1"/>
<circle cx="297.71" cy="466.53" r="1.1"/>
<circle cx="288.73" cy="466.47" r="1.1"/>
<circle cx="287.38" cy="465.77" r="1.1"/>
<circle cx="292.48" cy="464.57" r="1.1"/>
<circle cx="289.75" cy="463.95" r="1.1"/>
<circle cx="290.74" cy="463.34" r="1.1"/>
<circle cx="295.00" cy="463.08" r="1.1"/>
<circle cx="286.29" cy="461.99" r="1.1"/>
<circle cx="292.95" cy="461.56" r="1.1"/>
<circle cx="289.70" cy="461.16" r="1.1"/>
<circle cx="287.57" cy="460.56" r="1.1"/>
<circle cx="292.69" cy="459.83" r="1.1"/>
<circle cx="287.56" cy="458.93" r="1.1"/>
<circle cx="289.16" cy="458.69" r="1.1"/>
<circle cx="287.32" cy="457.61" r="1.1"/>
<circle cx="287.56" cy="457.20" r="1.1"/>
<circle cx="292.02" cy="456.23" r="1.1"/>
<circle cx="286.24" cy="456.06" r="1.1"/>
<circle cx="292.05" cy="455.19" r="1.1"/>
<circle cx="286.11" cy="454.38" r="1.1"/>
<circle cx="293.93" cy="454.04" r="1.1"/>
<circle cx="288.59" cy="453.23" r="1.1"/>
<circle cx="297.27" cy="452.65" r="1.1"/>
<path d="M216.70,355.10 V344.85 H291.30 V355.10" fill="none" stroke="#000" stroke-width="2.7" stroke-linejoin="miter"/>
<text x="0" y="0" transform="translate(256.10,342.30) scale(1,1.08)" font-size="15" text-anchor="middle" >NS</text>
<text x="0" y="0" transform="translate(219.50,505.60) scale(1,1.08)" font-size="15" text-anchor="middle" >Ctrl</text>
<text x="0" y="0" transform="translate(292.40,505.60) scale(1,1.08)" font-size="15" text-anchor="middle" >PD</text>
<line x1="338.30" y1="349.00" x2="338.30" y2="485.40" stroke="#dedede" stroke-width="1" />
<line x1="338.30" y1="485.40" x2="503.20" y2="485.40" stroke="#dedede" stroke-width="1" />
<line x1="345.00" y1="476.50" x2="359.00" y2="476.50" stroke="#aaaaaa" stroke-width="1.3" />
<line x1="345.00" y1="482.50" x2="359.00" y2="482.50" stroke="#aaaaaa" stroke-width="1.3" />
<rect x="345.00" y="476.50" width="14.00" height="6.00" fill="#d4d4d4" stroke="#9a9a9a" stroke-width="0.9"/>
<line x1="345.00" y1="479.50" x2="359.00" y2="479.50" stroke="#9a9a9a" stroke-width="0.9" />
<circle cx="352.00" cy="474.80" r="1.1"/>
<circle cx="351.50" cy="476.50" r="1.1"/>
<circle cx="350.00" cy="478.50" r="1.1"/>
<circle cx="349.00" cy="479.80" r="1.1"/>
<circle cx="351.00" cy="480.50" r="1.1"/>
<circle cx="352.50" cy="479.00" r="1.1"/>
<circle cx="353.50" cy="478.00" r="1.1"/>
<circle cx="354.80" cy="477.00" r="1.1"/>
<circle cx="355.50" cy="476.20" r="1.1"/>
<circle cx="352.00" cy="481.50" r="1.1"/>
<circle cx="353.00" cy="482.30" r="1.1"/>
<circle cx="350.50" cy="482.00" r="1.1"/>
<circle cx="354.00" cy="480.80" r="1.1"/>
<circle cx="352.00" cy="483.00" r="1.1"/>
<line x1="379.30" y1="437.90" x2="379.30" y2="452.40" stroke="#a0a0a0" stroke-width="0.8" />
<line x1="379.30" y1="478.90" x2="379.30" y2="482.30" stroke="#a0a0a0" stroke-width="0.8" />
<line x1="372.30" y1="437.90" x2="386.50" y2="437.90" stroke="#aaaaaa" stroke-width="1.3" />
<line x1="372.30" y1="482.30" x2="386.50" y2="482.30" stroke="#aaaaaa" stroke-width="1.3" />
<rect x="372.30" y="452.40" width="14.20" height="26.50" fill="none" stroke="#9a9a9a" stroke-width="0.9"/>
<line x1="372.30" y1="471.90" x2="386.50" y2="471.90" stroke="#9a9a9a" stroke-width="0.9" />
<circle cx="379.50" cy="362.70" r="1.1"/>
<circle cx="378.90" cy="438.50" r="1.1"/>
<circle cx="379.50" cy="442.80" r="1.1"/>
<circle cx="378.40" cy="447.00" r="1.1"/>
<circle cx="376.10" cy="450.80" r="1.1"/>
<circle cx="378.40" cy="453.00" r="1.1"/>
<circle cx="378.40" cy="460.70" r="1.1"/>
<circle cx="380.90" cy="464.10" r="1.1"/>
<circle cx="382.60" cy="463.70" r="1.1"/>
<circle cx="377.20" cy="467.50" r="1.1"/>
<circle cx="379.50" cy="468.90" r="1.1"/>
<circle cx="380.00" cy="471.80" r="1.1"/>
<circle cx="380.90" cy="473.50" r="1.1"/>
<circle cx="378.90" cy="476.00" r="1.1"/>
<circle cx="380.90" cy="477.70" r="1.1"/>
<circle cx="379.50" cy="479.40" r="1.1"/>
<circle cx="380.60" cy="481.50" r="1.1"/>
<circle cx="377.50" cy="474.50" r="1.1"/>
<circle cx="381.50" cy="479.50" r="1.1"/>
<line x1="407.00" y1="440.00" x2="407.00" y2="458.70" stroke="#a0a0a0" stroke-width="0.8" />
<line x1="407.00" y1="479.40" x2="407.00" y2="482.80" stroke="#a0a0a0" stroke-width="0.8" />
<line x1="400.00" y1="440.00" x2="413.70" y2="440.00" stroke="#aaaaaa" stroke-width="1.3" />
<line x1="400.00" y1="482.80" x2="413.70" y2="482.80" stroke="#aaaaaa" stroke-width="1.3" />
<rect x="400.00" y="458.70" width="13.70" height="20.70" fill="none" stroke="#9a9a9a" stroke-width="0.9"/>
<line x1="400.00" y1="472.90" x2="413.70" y2="472.90" stroke="#9a9a9a" stroke-width="0.9" />
<circle cx="407.80" cy="372.00" r="1.1"/>
<circle cx="409.00" cy="372.00" r="1.1"/>
<circle cx="406.80" cy="424.00" r="1.1"/>
<circle cx="407.80" cy="439.70" r="1.1"/>
<circle cx="408.20" cy="446.20" r="1.1"/>
<circle cx="404.80" cy="452.50" r="1.1"/>
<circle cx="406.10" cy="453.90" r="1.1"/>
<circle cx="405.60" cy="456.40" r="1.1"/>
<circle cx="406.80" cy="458.10" r="1.1"/>
<circle cx="406.50" cy="464.10" r="1.1"/>
<circle cx="405.60" cy="467.50" r="1.1"/>
<circle cx="407.80" cy="469.50" r="1.1"/>
<circle cx="404.80" cy="471.80" r="1.1"/>
<circle cx="407.30" cy="473.50" r="1.1"/>
<circle cx="405.60" cy="476.00" r="1.1"/>
<circle cx="407.80" cy="476.90" r="1.1"/>
<circle cx="406.50" cy="478.60" r="1.1"/>
<circle cx="405.60" cy="480.30" r="1.1"/>
<circle cx="408.20" cy="481.10" r="1.1"/>
<circle cx="406.80" cy="482.50" r="1.1"/>
<circle cx="404.50" cy="478.00" r="1.1"/>
<circle cx="408.50" cy="479.50" r="1.1"/>
<circle cx="406.00" cy="481.80" r="1.1"/>
<circle cx="409.00" cy="475.00" r="1.1"/>
<circle cx="404.30" cy="474.50" r="1.1"/>
<circle cx="405.00" cy="461.00" r="1.1"/>
<circle cx="408.60" cy="462.50" r="1.1"/>
<line x1="435.00" y1="448.50" x2="435.00" y2="462.40" stroke="#a0a0a0" stroke-width="0.8" />
<line x1="435.00" y1="478.40" x2="435.00" y2="483.00" stroke="#a0a0a0" stroke-width="0.8" />
<line x1="428.10" y1="448.50" x2="441.70" y2="448.50" stroke="#aaaaaa" stroke-width="1.3" />
<line x1="428.10" y1="483.00" x2="441.70" y2="483.00" stroke="#aaaaaa" stroke-width="1.3" />
<rect x="428.10" y="462.40" width="13.60" height="16.00" fill="none" stroke="#9a9a9a" stroke-width="0.9"/>
<line x1="428.10" y1="470.40" x2="441.70" y2="470.40" stroke="#9a9a9a" stroke-width="0.9" />
<circle cx="434.60" cy="438.10" r="1.1"/>
<circle cx="433.30" cy="448.50" r="1.1"/>
<circle cx="434.60" cy="455.80" r="1.1"/>
<circle cx="436.40" cy="457.60" r="1.1"/>
<circle cx="433.30" cy="461.60" r="1.1"/>
<circle cx="434.60" cy="463.30" r="1.1"/>
<circle cx="435.50" cy="465.10" r="1.1"/>
<circle cx="436.40" cy="466.00" r="1.1"/>
<circle cx="437.70" cy="470.40" r="1.1"/>
<circle cx="435.90" cy="472.20" r="1.1"/>
<circle cx="434.60" cy="473.50" r="1.1"/>
<circle cx="433.30" cy="477.90" r="1.1"/>
<circle cx="434.10" cy="478.80" r="1.1"/>
<circle cx="432.80" cy="480.10" r="1.1"/>
<circle cx="434.60" cy="481.00" r="1.1"/>
<circle cx="433.30" cy="482.30" r="1.1"/>
<circle cx="434.10" cy="483.20" r="1.1"/>
<line x1="462.30" y1="445.20" x2="462.30" y2="461.10" stroke="#a0a0a0" stroke-width="0.8" />
<line x1="462.30" y1="481.00" x2="462.30" y2="483.30" stroke="#a0a0a0" stroke-width="0.8" />
<line x1="455.50" y1="445.20" x2="469.10" y2="445.20" stroke="#aaaaaa" stroke-width="1.3" />
<line x1="455.50" y1="483.30" x2="469.10" y2="483.30" stroke="#aaaaaa" stroke-width="1.3" />
<rect x="455.50" y="461.10" width="13.60" height="19.90" fill="none" stroke="#9a9a9a" stroke-width="0.9"/>
<line x1="455.50" y1="480.00" x2="469.10" y2="480.00" stroke="#9a9a9a" stroke-width="0.9" />
<circle cx="462.60" cy="445.20" r="1.1"/>
<circle cx="463.90" cy="453.20" r="1.1"/>
<circle cx="462.90" cy="468.60" r="1.1"/>
<circle cx="462.00" cy="475.50" r="1.1"/>
<circle cx="460.70" cy="478.80" r="1.1"/>
<circle cx="462.90" cy="480.10" r="1.1"/>
<circle cx="461.60" cy="481.40" r="1.1"/>
<circle cx="462.40" cy="483.00" r="1.1"/>
<line x1="483.50" y1="475.80" x2="496.00" y2="475.80" stroke="#9a9a9a" stroke-width="0.9" />
<circle cx="489.75" cy="475.80" r="1.0"/>
<path d="M352.55,321.50 V316.15 H431.30 V321.50" fill="none" stroke="#000" stroke-width="2.7" stroke-linejoin="miter"/>
<text x="394.15" y="318.90" font-size="13.5" text-anchor="middle" letter-spacing="0.6">***</text>
<path d="M352.55,337.80 V331.65 H405.40 V337.80" fill="none" stroke="#000" stroke-width="2.7" stroke-linejoin="miter"/>
<text x="380.35" y="335.20" font-size="13.5" text-anchor="middle" letter-spacing="0.6">***</text>
<path d="M352.55,355.50 V348.50 H380.90 V355.50" fill="none" stroke="#000" stroke-width="2.7" stroke-linejoin="miter"/>
<text x="368.75" y="351.00" font-size="13.5" text-anchor="middle" letter-spacing="0.6">***</text>
<text x="0" y="0" transform="translate(353.00,505.60) scale(1,1.08)" font-size="15" text-anchor="middle" >Ctrl</text>
<text x="0" y="0" transform="translate(378.50,505.60) scale(1,1.08)" font-size="15" text-anchor="middle" >I</text>
<text x="0" y="0" transform="translate(404.50,505.60) scale(1,1.08)" font-size="15" text-anchor="middle" letter-spacing="-1.0">II</text>
<text x="0" y="0" transform="translate(431.20,505.60) scale(1,1.08)" font-size="15" text-anchor="middle" letter-spacing="-1.0">III</text>
<text x="0" y="0" transform="translate(460.50,505.60) scale(1,1.08)" font-size="15" text-anchor="middle" >IV</text>
<text x="0" y="0" transform="translate(489.20,505.60) scale(1,1.08)" font-size="15" text-anchor="middle" >V</text>
<line x1="513.50" y1="354.40" x2="513.50" y2="485.40" stroke="#dedede" stroke-width="1" />
<line x1="513.50" y1="485.40" x2="671.00" y2="485.40" stroke="#dedede" stroke-width="1" />
<line x1="526.50" y1="452.10" x2="526.50" y2="467.90" stroke="#a0a0a0" stroke-width="0.8" />
<line x1="526.50" y1="478.40" x2="526.50" y2="481.60" stroke="#a0a0a0" stroke-width="0.8" />
<line x1="520.20" y1="452.10" x2="534.10" y2="452.10" stroke="#aaaaaa" stroke-width="1.3" />
<line x1="520.20" y1="481.60" x2="534.10" y2="481.60" stroke="#aaaaaa" stroke-width="1.3" />
<rect x="520.20" y="467.90" width="13.90" height="10.50" fill="none" stroke="#9a9a9a" stroke-width="0.9"/>
<line x1="520.20" y1="476.70" x2="534.10" y2="476.70" stroke="#9a9a9a" stroke-width="0.9" />
<circle cx="525.70" cy="381.00" r="1.1"/>
<circle cx="526.80" cy="425.20" r="1.1"/>
<circle cx="524.80" cy="428.90" r="1.1"/>
<circle cx="525.70" cy="438.70" r="1.1"/>
<circle cx="524.80" cy="447.70" r="1.1"/>
<circle cx="528.10" cy="452.10" r="1.1"/>
<circle cx="526.50" cy="461.60" r="1.1"/>
<circle cx="526.10" cy="464.10" r="1.1"/>
<circle cx="527.80" cy="467.40" r="1.1"/>
<circle cx="526.50" cy="469.50" r="1.1"/>
<circle cx="525.20" cy="471.50" r="1.1"/>
<circle cx="524.80" cy="473.90" r="1.1"/>
<circle cx="526.50" cy="474.80" r="1.1"/>
<circle cx="524.00" cy="476.10" r="1.1"/>
<circle cx="525.70" cy="477.20" r="1.1"/>
<circle cx="527.30" cy="477.70" r="1.1"/>
<circle cx="524.80" cy="478.90" r="1.1"/>
<circle cx="526.50" cy="479.70" r="1.1"/>
<circle cx="524.50" cy="480.50" r="1.1"/>
<circle cx="526.10" cy="481.00" r="1.1"/>
<circle cx="528.50" cy="476.00" r="1.1"/>
<circle cx="523.50" cy="479.50" r="1.1"/>
<circle cx="527.50" cy="480.80" r="1.1"/>
<circle cx="525.00" cy="481.50" r="1.1"/>
<line x1="553.20" y1="430.80" x2="553.20" y2="456.40" stroke="#a0a0a0" stroke-width="0.8" />
<line x1="553.20" y1="476.40" x2="553.20" y2="481.60" stroke="#a0a0a0" stroke-width="0.8" />
<line x1="547.00" y1="430.80" x2="559.60" y2="430.80" stroke="#aaaaaa" stroke-width="1.3" />
<line x1="547.00" y1="481.60" x2="559.60" y2="481.60" stroke="#aaaaaa" stroke-width="1.3" />
<rect x="547.00" y="456.40" width="12.60" height="20.00" fill="none" stroke="#9a9a9a" stroke-width="0.9"/>
<line x1="547.00" y1="471.50" x2="559.60" y2="471.50" stroke="#9a9a9a" stroke-width="0.9" />
<circle cx="551.90" cy="366.90" r="1.1"/>
<circle cx="553.50" cy="400.70" r="1.1"/>
<circle cx="552.70" cy="403.90" r="1.1"/>
<circle cx="551.40" cy="430.80" r="1.1"/>
<circle cx="552.40" cy="433.80" r="1.1"/>
<circle cx="553.50" cy="435.70" r="1.1"/>
<circle cx="552.70" cy="442.80" r="1.1"/>
<circle cx="551.90" cy="447.70" r="1.1"/>
<circle cx="554.30" cy="448.50" r="1.1"/>
<circle cx="552.70" cy="454.80" r="1.1"/>
<circle cx="551.90" cy="458.40" r="1.1"/>
<circle cx="551.40" cy="466.60" r="1.1"/>
<circle cx="554.30" cy="467.40" r="1.1"/>
<circle cx="553.50" cy="469.00" r="1.1"/>
<circle cx="551.90" cy="471.50" r="1.1"/>
<circle cx="554.30" cy="473.10" r="1.1"/>
<circle cx="552.40" cy="474.80" r="1.1"/>
<circle cx="553.50" cy="476.70" r="1.1"/>
<circle cx="551.40" cy="478.90" r="1.1"/>
<circle cx="553.00" cy="480.50" r="1.1"/>
<circle cx="555.00" cy="465.00" r="1.1"/>
<circle cx="550.50" cy="462.50" r="1.1"/>
<circle cx="552.50" cy="481.50" r="1.1"/>
<line x1="579.20" y1="456.10" x2="579.20" y2="468.50" stroke="#a0a0a0" stroke-width="0.8" />
<line x1="579.20" y1="477.90" x2="579.20" y2="481.80" stroke="#a0a0a0" stroke-width="0.8" />
<line x1="572.20" y1="456.10" x2="586.20" y2="456.10" stroke="#aaaaaa" stroke-width="1.3" />
<line x1="572.20" y1="481.80" x2="586.20" y2="481.80" stroke="#aaaaaa" stroke-width="1.3" />
<rect x="572.20" y="468.50" width="14.00" height="9.40" fill="none" stroke="#9a9a9a" stroke-width="0.9"/>
<line x1="572.20" y1="474.20" x2="586.20" y2="474.20" stroke="#9a9a9a" stroke-width="0.9" />
<circle cx="579.80" cy="382.60" r="1.1"/>
<circle cx="577.80" cy="409.10" r="1.1"/>
<circle cx="578.60" cy="414.20" r="1.1"/>
<circle cx="579.40" cy="420.80" r="1.1"/>
<circle cx="580.40" cy="441.50" r="1.1"/>
<circle cx="581.60" cy="441.50" r="1.1"/>
<circle cx="580.90" cy="444.20" r="1.1"/>
<circle cx="581.60" cy="444.20" r="1.1"/>
<circle cx="577.80" cy="448.80" r="1.1"/>
<circle cx="578.90" cy="453.00" r="1.1"/>
<circle cx="579.40" cy="456.40" r="1.1"/>
<circle cx="580.90" cy="461.70" r="1.1"/>
<circle cx="578.60" cy="465.80" r="1.1"/>
<circle cx="577.40" cy="468.80" r="1.1"/>
<circle cx="580.10" cy="470.00" r="1.1"/>
<circle cx="578.60" cy="471.50" r="1.1"/>
<circle cx="580.90" cy="473.00" r="1.1"/>
<circle cx="577.80" cy="474.50" r="1.1"/>
<circle cx="579.40" cy="476.10" r="1.1"/>
<circle cx="577.40" cy="477.60" r="1.1"/>
<circle cx="580.10" cy="478.30" r="1.1"/>
<circle cx="578.60" cy="479.40" r="1.1"/>
<circle cx="577.10" cy="480.30" r="1.1"/>
<circle cx="578.90" cy="481.40" r="1.1"/>
<circle cx="581.50" cy="476.50" r="1.1"/>
<circle cx="576.50" cy="472.50" r="1.1"/>
<circle cx="581.00" cy="480.50" r="1.1"/>
<line x1="605.50" y1="451.50" x2="605.50" y2="466.20" stroke="#a0a0a0" stroke-width="0.8" />
<line x1="605.50" y1="478.80" x2="605.50" y2="481.80" stroke="#a0a0a0" stroke-width="0.8" />
<line x1="599.50" y1="451.50" x2="612.20" y2="451.50" stroke="#aaaaaa" stroke-width="1.3" />
<line x1="599.50" y1="481.80" x2="612.20" y2="481.80" stroke="#aaaaaa" stroke-width="1.3" />
<rect x="599.50" y="466.20" width="12.70" height="12.60" fill="none" stroke="#9a9a9a" stroke-width="0.9"/>
<line x1="599.50" y1="474.20" x2="612.20" y2="474.20" stroke="#9a9a9a" stroke-width="0.9" />
<circle cx="604.40" cy="429.80" r="1.1"/>
<circle cx="605.90" cy="437.90" r="1.1"/>
<circle cx="603.90" cy="443.50" r="1.1"/>
<circle cx="605.10" cy="451.50" r="1.1"/>
<circle cx="607.10" cy="451.50" r="1.1"/>
<circle cx="604.10" cy="460.90" r="1.1"/>
<circle cx="605.10" cy="465.20" r="1.1"/>
<circle cx="604.40" cy="467.70" r="1.1"/>
<circle cx="605.90" cy="469.20" r="1.1"/>
<circle cx="604.10" cy="470.80" r="1.1"/>
<circle cx="606.60" cy="471.80" r="1.1"/>
<circle cx="604.70" cy="473.00" r="1.1"/>
<circle cx="605.90" cy="474.50" r="1.1"/>
<circle cx="603.60" cy="475.80" r="1.1"/>
<circle cx="605.60" cy="476.80" r="1.1"/>
<circle cx="604.40" cy="478.30" r="1.1"/>
<circle cx="606.20" cy="479.40" r="1.1"/>
<circle cx="605.10" cy="480.60" r="1.1"/>
<circle cx="606.60" cy="481.40" r="1.1"/>
<circle cx="602.80" cy="478.00" r="1.1"/>
<circle cx="607.50" cy="476.00" r="1.1"/>
<line x1="631.70" y1="462.00" x2="631.70" y2="466.00" stroke="#a0a0a0" stroke-width="0.8" />
<line x1="625.20" y1="462.00" x2="638.20" y2="462.00" stroke="#aaaaaa" stroke-width="1.3" />
<line x1="625.20" y1="479.40" x2="638.20" y2="479.40" stroke="#aaaaaa" stroke-width="1.3" />
<rect x="625.20" y="466.00" width="13.00" height="13.40" fill="none" stroke="#9a9a9a" stroke-width="0.9"/>
<line x1="625.20" y1="475.00" x2="638.20" y2="475.00" stroke="#9a9a9a" stroke-width="0.9" />
<circle cx="631.70" cy="462.50" r="1.1"/>
<circle cx="633.00" cy="466.00" r="1.1"/>
<circle cx="630.00" cy="472.00" r="1.1"/>
<circle cx="631.50" cy="476.00" r="1.1"/>
<circle cx="629.50" cy="479.00" r="1.1"/>
<line x1="653.00" y1="478.40" x2="663.30" y2="478.40" stroke="#9a9a9a" stroke-width="0.9" />
<circle cx="658.15" cy="478.40" r="1.0"/>
<path d="M528.35,352.70 V346.00 H556.55 V352.70" fill="none" stroke="#000" stroke-width="2.7" stroke-linejoin="miter"/>
<text x="543.20" y="347.20" font-size="13.5" text-anchor="middle" letter-spacing="0.6">*</text>
<text x="0" y="0" transform="translate(527.00,505.60) scale(1,1.08)" font-size="15" text-anchor="middle" >Ctrl</text>
<text x="0" y="0" transform="translate(553.50,505.60) scale(1,1.08)" font-size="15" text-anchor="middle" >I</text>
<text x="0" y="0" transform="translate(577.30,505.60) scale(1,1.08)" font-size="15" text-anchor="middle" letter-spacing="-1.0">II</text>
<text x="0" y="0" transform="translate(603.50,505.60) scale(1,1.08)" font-size="15" text-anchor="middle" letter-spacing="-1.0">III</text>
<text x="0" y="0" transform="translate(631.70,505.60) scale(1,1.08)" font-size="15" text-anchor="middle" >IV</text>
<text x="0" y="0" transform="translate(660.50,505.60) scale(1,1.08)" font-size="15" text-anchor="middle" >V</text>
<line x1="21.60" y1="651.00" x2="21.60" y2="768.90" stroke="#dedede" stroke-width="1" />
<line x1="21.60" y1="768.90" x2="160.00" y2="768.90" stroke="#dedede" stroke-width="1" />
<line x1="19.60" y1="670.20" x2="21.60" y2="670.20" stroke="#e2e2e2" stroke-width="1" />
<line x1="19.60" y1="689.90" x2="21.60" y2="689.90" stroke="#e2e2e2" stroke-width="1" />
<line x1="19.60" y1="709.80" x2="21.60" y2="709.80" stroke="#e2e2e2" stroke-width="1" />
<line x1="19.60" y1="729.40" x2="21.60" y2="729.40" stroke="#e2e2e2" stroke-width="1" />
<line x1="19.60" y1="748.80" x2="21.60" y2="748.80" stroke="#e2e2e2" stroke-width="1" />
<line x1="42.30" y1="742.00" x2="42.30" y2="744.00" stroke="#8c8c8c" stroke-width="0.8" />
<line x1="42.30" y1="747.00" x2="42.30" y2="747.50" stroke="#8c8c8c" stroke-width="0.8" />
<line x1="37.30" y1="742.00" x2="47.90" y2="742.00" stroke="#8c8c8c" stroke-width="1.0" />
<line x1="37.30" y1="747.50" x2="47.90" y2="747.50" stroke="#8c8c8c" stroke-width="1.0" />
<rect x="37.30" y="744.00" width="10.60" height="3.00" fill="none" stroke="#9a9a9a" stroke-width="0.9"/>
<line x1="37.30" y1="746.00" x2="47.90" y2="746.00" stroke="#9a9a9a" stroke-width="0.9" />
<circle cx="42.34" cy="747.46" r="1.1"/>
<circle cx="42.25" cy="747.31" r="1.1"/>
<circle cx="42.59" cy="747.10" r="1.1"/>
<circle cx="42.12" cy="747.03" r="1.1"/>
<circle cx="41.99" cy="746.76" r="1.1"/>
<circle cx="42.73" cy="746.71" r="1.1"/>
<circle cx="42.64" cy="746.41" r="1.1"/>
<circle cx="42.71" cy="746.21" r="1.1"/>
<circle cx="41.94" cy="745.95" r="1.1"/>
<circle cx="42.35" cy="745.49" r="1.1"/>
<circle cx="42.73" cy="744.13" r="1.1"/>
<circle cx="42.37" cy="743.52" r="1.1"/>
<line x1="63.00" y1="713.60" x2="63.00" y2="730.20" stroke="#8c8c8c" stroke-width="0.8" />
<line x1="63.00" y1="747.00" x2="63.00" y2="747.80" stroke="#8c8c8c" stroke-width="0.8" />
<line x1="57.90" y1="713.60" x2="68.50" y2="713.60" stroke="#8c8c8c" stroke-width="1.0" />
<line x1="57.90" y1="747.80" x2="68.50" y2="747.80" stroke="#8c8c8c" stroke-width="1.0" />
<rect x="57.90" y="730.20" width="10.60" height="16.80" fill="none" stroke="#9a9a9a" stroke-width="0.9"/>
<line x1="57.90" y1="742.00" x2="68.50" y2="742.00" stroke="#9a9a9a" stroke-width="0.9" />
<circle cx="63.00" cy="670.20" r="1.1"/>
<circle cx="63.00" cy="704.20" r="1.1"/>
<circle cx="63.00" cy="747.76" r="1.1"/>
<circle cx="62.87" cy="747.68" r="1.1"/>
<circle cx="63.25" cy="747.53" r="1.1"/>
<circle cx="62.99" cy="747.47" r="1.1"/>
<circle cx="63.27" cy="747.29" r="1.1"/>
<circle cx="62.78" cy="747.25" r="1.1"/>
<circle cx="63.28" cy="747.06" r="1.1"/>
<circle cx="62.74" cy="747.00" r="1.1"/>
<circle cx="62.88" cy="746.29" r="1.1"/>
<circle cx="63.13" cy="745.80" r="1.1"/>
<circle cx="62.64" cy="745.34" r="1.1"/>
<circle cx="62.71" cy="744.86" r="1.1"/>
<circle cx="63.37" cy="744.55" r="1.1"/>
<circle cx="62.66" cy="743.84" r="1.1"/>
<circle cx="62.89" cy="743.64" r="1.1"/>
<circle cx="62.88" cy="742.99" r="1.1"/>
<circle cx="62.73" cy="742.69" r="1.1"/>
<circle cx="63.42" cy="741.47" r="1.1"/>
<circle cx="63.07" cy="740.72" r="1.1"/>
<circle cx="62.51" cy="736.67" r="1.1"/>
<circle cx="62.59" cy="734.12" r="1.1"/>
<circle cx="63.05" cy="732.33" r="1.1"/>
<circle cx="62.89" cy="729.36" r="1.1"/>
<circle cx="63.05" cy="724.09" r="1.1"/>
<circle cx="63.09" cy="717.41" r="1.1"/>
<line x1="83.60" y1="717.30" x2="83.60" y2="730.70" stroke="#8c8c8c" stroke-width="0.8" />
<line x1="83.60" y1="745.80" x2="83.60" y2="748.30" stroke="#8c8c8c" stroke-width="0.8" />
<line x1="78.60" y1="717.30" x2="89.20" y2="717.30" stroke="#8c8c8c" stroke-width="1.0" />
<line x1="78.60" y1="748.30" x2="89.20" y2="748.30" stroke="#8c8c8c" stroke-width="1.0" />
<rect x="78.60" y="730.70" width="10.60" height="15.10" fill="none" stroke="#9a9a9a" stroke-width="0.9"/>
<line x1="78.60" y1="742.00" x2="89.20" y2="742.00" stroke="#9a9a9a" stroke-width="0.9" />
<circle cx="83.60" cy="678.30" r="1.1"/>
<circle cx="83.60" cy="706.80" r="1.1"/>
<circle cx="83.60" cy="709.30" r="1.1"/>
<circle cx="83.56" cy="748.21" r="1.1"/>
<circle cx="83.67" cy="748.09" r="1.1"/>
<circle cx="83.45" cy="747.78" r="1.1"/>
<circle cx="83.76" cy="747.52" r="1.1"/>
<circle cx="83.41" cy="747.37" r="1.1"/>
<circle cx="83.37" cy="747.16" r="1.1"/>
<circle cx="83.56" cy="747.02" r="1.1"/>
<circle cx="83.57" cy="746.82" r="1.1"/>
<circle cx="83.33" cy="746.53" r="1.1"/>
<circle cx="83.36" cy="746.29" r="1.1"/>
<circle cx="83.76" cy="746.06" r="1.1"/>
<circle cx="83.34" cy="745.90" r="1.1"/>
<circle cx="83.47" cy="745.68" r="1.1"/>
<circle cx="83.21" cy="745.34" r="1.1"/>
<circle cx="84.13" cy="745.12" r="1.1"/>
<circle cx="83.93" cy="744.91" r="1.1"/>
<circle cx="84.11" cy="744.80" r="1.1"/>
<circle cx="84.08" cy="744.50" r="1.1"/>
<circle cx="83.25" cy="744.16" r="1.1"/>
<circle cx="84.06" cy="743.95" r="1.1"/>
<circle cx="83.44" cy="743.88" r="1.1"/>
<circle cx="83.24" cy="743.48" r="1.1"/>
<circle cx="83.36" cy="743.21" r="1.1"/>
<circle cx="83.22" cy="742.99" r="1.1"/>
<circle cx="84.05" cy="742.83" r="1.1"/>
<circle cx="83.35" cy="742.66" r="1.1"/>
<circle cx="83.41" cy="742.35" r="1.1"/>
<circle cx="83.26" cy="742.23" r="1.1"/>
<circle cx="84.06" cy="741.77" r="1.1"/>
<circle cx="84.02" cy="739.63" r="1.1"/>
<circle cx="83.90" cy="738.94" r="1.1"/>
<circle cx="83.63" cy="737.60" r="1.1"/>
<circle cx="83.45" cy="735.45" r="1.1"/>
<circle cx="83.66" cy="733.70" r="1.1"/>
<circle cx="84.01" cy="732.71" r="1.1"/>
<circle cx="84.12" cy="731.96" r="1.1"/>
<circle cx="83.54" cy="728.59" r="1.1"/>
<circle cx="83.46" cy="724.68" r="1.1"/>
<circle cx="83.65" cy="720.68" r="1.1"/>
<circle cx="83.75" cy="719.44" r="1.1"/>
<line x1="104.00" y1="715.60" x2="104.00" y2="732.70" stroke="#8c8c8c" stroke-width="0.8" />
<line x1="104.00" y1="745.30" x2="104.00" y2="747.80" stroke="#8c8c8c" stroke-width="0.8" />
<line x1="99.00" y1="715.60" x2="109.60" y2="715.60" stroke="#8c8c8c" stroke-width="1.0" />
<line x1="99.00" y1="747.80" x2="109.60" y2="747.80" stroke="#8c8c8c" stroke-width="1.0" />
<rect x="99.00" y="732.70" width="10.60" height="12.60" fill="none" stroke="#9a9a9a" stroke-width="0.9"/>
<line x1="99.00" y1="740.30" x2="109.60" y2="740.30" stroke="#9a9a9a" stroke-width="0.9" />
<circle cx="104.00" cy="687.90" r="1.1"/>
<circle cx="103.81" cy="747.62" r="1.1"/>
<circle cx="103.74" cy="747.07" r="1.1"/>
<circle cx="103.86" cy="746.63" r="1.1"/>
<circle cx="104.28" cy="746.28" r="1.1"/>
<circle cx="104.10" cy="745.89" r="1.1"/>
<circle cx="103.71" cy="745.59" r="1.1"/>
<circle cx="103.63" cy="745.28" r="1.1"/>
<circle cx="103.93" cy="744.29" r="1.1"/>
<circle cx="104.42" cy="743.73" r="1.1"/>
<circle cx="103.71" cy="743.34" r="1.1"/>
<circle cx="103.49" cy="742.39" r="1.1"/>
<circle cx="103.85" cy="742.17" r="1.1"/>
<circle cx="103.85" cy="741.48" r="1.1"/>
<circle cx="104.09" cy="740.78" r="1.1"/>
<circle cx="103.69" cy="739.18" r="1.1"/>
<circle cx="103.97" cy="737.21" r="1.1"/>
<circle cx="104.46" cy="736.24" r="1.1"/>
<circle cx="103.63" cy="734.14" r="1.1"/>
<circle cx="104.08" cy="731.88" r="1.1"/>
<circle cx="104.16" cy="716.70" r="1.1"/>
<line x1="124.70" y1="720.60" x2="124.70" y2="726.90" stroke="#8c8c8c" stroke-width="0.8" />
<line x1="124.70" y1="747.00" x2="124.70" y2="747.50" stroke="#8c8c8c" stroke-width="0.8" />
<line x1="119.60" y1="720.60" x2="130.20" y2="720.60" stroke="#8c8c8c" stroke-width="1.0" />
<line x1="119.60" y1="747.50" x2="130.20" y2="747.50" stroke="#8c8c8c" stroke-width="1.0" />
<rect x="119.60" y="726.90" width="10.60" height="20.10" fill="none" stroke="#9a9a9a" stroke-width="0.9"/>
<line x1="119.60" y1="743.30" x2="130.20" y2="743.30" stroke="#9a9a9a" stroke-width="0.9" />
<circle cx="124.70" cy="692.10" r="1.1"/>
<circle cx="124.70" cy="720.60" r="1.1"/>
<circle cx="124.70" cy="729.00" r="1.1"/>
<circle cx="124.70" cy="734.00" r="1.1"/>
<circle cx="124.70" cy="738.50" r="1.1"/>
<circle cx="124.70" cy="745.00" r="1.1"/>
<circle cx="124.70" cy="747.00" r="1.1"/>
<line x1="140.60" y1="740.80" x2="150.60" y2="740.80" stroke="#9a9a9a" stroke-width="0.9" />
<circle cx="145.60" cy="740.80" r="1.0"/>
<path d="M43.20,601.70 V595.85 H99.90 V601.70" fill="none" stroke="#000" stroke-width="2.7" stroke-linejoin="miter"/>
<text x="74.45" y="595.50" font-size="13.5" text-anchor="middle" letter-spacing="0.6">***</text>
<path d="M43.20,617.00 V611.05 H84.90 V617.00" fill="none" stroke="#000" stroke-width="2.7" stroke-linejoin="miter"/>
<text x="66.00" y="611.50" font-size="13.5" text-anchor="middle" letter-spacing="0.6">***</text>
<path d="M43.20,632.70 V627.40 H63.70 V632.70" fill="none" stroke="#000" stroke-width="2.7" stroke-linejoin="miter"/>
<text x="54.30" y="627.50" font-size="13.5" text-anchor="middle" letter-spacing="0.6">***</text>
<text x="0" y="0" transform="translate(40.00,787.40) scale(1,1.08)" font-size="15" text-anchor="middle" >Ctrl</text>
<text x="0" y="0" transform="translate(63.30,787.40) scale(1,1.08)" font-size="15" text-anchor="middle" >I</text>
<text x="0" y="0" transform="translate(82.10,787.40) scale(1,1.08)" font-size="15" text-anchor="middle" letter-spacing="-1.0">II</text>
<text x="0" y="0" transform="translate(100.60,787.40) scale(1,1.08)" font-size="15" text-anchor="middle" letter-spacing="-1.0">III</text>
<text x="0" y="0" transform="translate(125.40,787.40) scale(1,1.08)" font-size="15" text-anchor="middle" >IV</text>
<text x="0" y="0" transform="translate(144.80,787.40) scale(1,1.08)" font-size="15" text-anchor="middle" >V</text>
<text x="0" y="0" font-size="15.5" text-anchor="middle" textLength="153.0" lengthAdjust="spacingAndGlyphs" transform="translate(13.90,696.30) rotate(-90) scale(1,1.05)">AC(8:0)/AC(16:0) ratio</text>
<line x1="187.20" y1="650.70" x2="187.20" y2="768.70" stroke="#dedede" stroke-width="1" />
<line x1="187.20" y1="768.70" x2="326.20" y2="768.70" stroke="#dedede" stroke-width="1" />
<line x1="185.20" y1="668.30" x2="187.20" y2="668.30" stroke="#e2e2e2" stroke-width="1" />
<line x1="185.20" y1="685.40" x2="187.20" y2="685.40" stroke="#e2e2e2" stroke-width="1" />
<line x1="185.20" y1="702.30" x2="187.20" y2="702.30" stroke="#e2e2e2" stroke-width="1" />
<line x1="185.20" y1="719.20" x2="187.20" y2="719.20" stroke="#e2e2e2" stroke-width="1" />
<line x1="185.20" y1="736.00" x2="187.20" y2="736.00" stroke="#e2e2e2" stroke-width="1" />
<line x1="185.20" y1="752.80" x2="187.20" y2="752.80" stroke="#e2e2e2" stroke-width="1" />
<line x1="208.60" y1="743.30" x2="208.60" y2="752.60" stroke="#8c8c8c" stroke-width="0.8" />
<line x1="208.60" y1="762.90" x2="208.60" y2="764.70" stroke="#8c8c8c" stroke-width="0.8" />
<line x1="203.30" y1="743.30" x2="214.20" y2="743.30" stroke="#8c8c8c" stroke-width="1.0" />
<line x1="203.30" y1="764.70" x2="214.20" y2="764.70" stroke="#8c8c8c" stroke-width="1.0" />
<rect x="203.30" y="752.60" width="10.90" height="10.30" fill="none" stroke="#9a9a9a" stroke-width="0.9"/>
<line x1="203.30" y1="758.40" x2="214.20" y2="758.40" stroke="#9a9a9a" stroke-width="0.9" />
<circle cx="207.90" cy="718.60" r="1.1"/>
<circle cx="208.60" cy="731.90" r="1.1"/>
<circle cx="208.46" cy="764.58" r="1.1"/>
<circle cx="208.69" cy="764.40" r="1.1"/>
<circle cx="208.51" cy="763.93" r="1.1"/>
<circle cx="208.57" cy="763.61" r="1.1"/>
<circle cx="208.74" cy="763.22" r="1.1"/>
<circle cx="208.84" cy="763.13" r="1.1"/>
<circle cx="208.63" cy="762.88" r="1.1"/>
<circle cx="208.31" cy="762.11" r="1.1"/>
<circle cx="208.90" cy="761.74" r="1.1"/>
<circle cx="208.66" cy="761.21" r="1.1"/>
<circle cx="208.21" cy="760.12" r="1.1"/>
<circle cx="208.72" cy="759.98" r="1.1"/>
<circle cx="208.75" cy="759.24" r="1.1"/>
<circle cx="208.25" cy="758.50" r="1.1"/>
<circle cx="208.38" cy="757.95" r="1.1"/>
<circle cx="209.02" cy="756.88" r="1.1"/>
<circle cx="208.83" cy="754.36" r="1.1"/>
<circle cx="208.98" cy="754.04" r="1.1"/>
<circle cx="208.58" cy="749.13" r="1.1"/>
<circle cx="208.57" cy="744.50" r="1.1"/>
<line x1="228.80" y1="725.60" x2="228.80" y2="734.00" stroke="#8c8c8c" stroke-width="0.8" />
<line x1="228.80" y1="755.90" x2="228.80" y2="763.90" stroke="#8c8c8c" stroke-width="0.8" />
<line x1="223.70" y1="725.60" x2="234.30" y2="725.60" stroke="#8c8c8c" stroke-width="1.0" />
<line x1="223.70" y1="763.90" x2="234.30" y2="763.90" stroke="#8c8c8c" stroke-width="1.0" />
<rect x="223.70" y="734.00" width="10.60" height="21.90" fill="none" stroke="#9a9a9a" stroke-width="0.9"/>
<line x1="223.70" y1="746.50" x2="234.30" y2="746.50" stroke="#9a9a9a" stroke-width="0.9" />
<circle cx="228.50" cy="658.10" r="1.1"/>
<circle cx="228.57" cy="763.66" r="1.1"/>
<circle cx="228.53" cy="762.59" r="1.1"/>
<circle cx="228.95" cy="761.41" r="1.1"/>
<circle cx="229.00" cy="759.96" r="1.1"/>
<circle cx="228.66" cy="758.87" r="1.1"/>
<circle cx="228.76" cy="757.98" r="1.1"/>
<circle cx="228.81" cy="756.66" r="1.1"/>
<circle cx="228.88" cy="756.15" r="1.1"/>
<circle cx="228.50" cy="754.52" r="1.1"/>
<circle cx="228.29" cy="753.66" r="1.1"/>
<circle cx="228.52" cy="753.31" r="1.1"/>
<circle cx="229.27" cy="751.91" r="1.1"/>
<circle cx="228.62" cy="750.97" r="1.1"/>
<circle cx="228.62" cy="749.90" r="1.1"/>
<circle cx="229.23" cy="749.57" r="1.1"/>
<circle cx="229.00" cy="748.26" r="1.1"/>
<circle cx="229.31" cy="747.28" r="1.1"/>
<circle cx="229.16" cy="746.53" r="1.1"/>
<circle cx="229.18" cy="743.51" r="1.1"/>
<circle cx="229.04" cy="741.66" r="1.1"/>
<circle cx="228.60" cy="738.82" r="1.1"/>
<circle cx="228.93" cy="737.22" r="1.1"/>
<circle cx="229.24" cy="735.06" r="1.1"/>
<circle cx="228.52" cy="731.83" r="1.1"/>
<circle cx="229.05" cy="728.60" r="1.1"/>
<line x1="249.40" y1="713.60" x2="249.40" y2="739.50" stroke="#8c8c8c" stroke-width="0.8" />
<line x1="249.40" y1="759.60" x2="249.40" y2="764.20" stroke="#8c8c8c" stroke-width="0.8" />
<line x1="243.90" y1="713.60" x2="255.00" y2="713.60" stroke="#8c8c8c" stroke-width="1.0" />
<line x1="243.90" y1="764.20" x2="255.00" y2="764.20" stroke="#8c8c8c" stroke-width="1.0" />
<rect x="243.90" y="739.50" width="11.10" height="20.10" fill="none" stroke="#9a9a9a" stroke-width="0.9"/>
<line x1="243.90" y1="753.40" x2="255.00" y2="753.40" stroke="#9a9a9a" stroke-width="0.9" />
<circle cx="249.40" cy="658.10" r="1.1"/>
<circle cx="249.18" cy="764.07" r="1.1"/>
<circle cx="249.12" cy="763.81" r="1.1"/>
<circle cx="249.48" cy="763.17" r="1.1"/>
<circle cx="249.54" cy="762.78" r="1.1"/>
<circle cx="249.46" cy="762.64" r="1.1"/>
<circle cx="249.59" cy="762.14" r="1.1"/>
<circle cx="249.64" cy="761.59" r="1.1"/>
<circle cx="249.62" cy="761.49" r="1.1"/>
<circle cx="249.67" cy="760.78" r="1.1"/>
<circle cx="249.22" cy="760.71" r="1.1"/>
<circle cx="249.12" cy="760.32" r="1.1"/>
<circle cx="249.59" cy="759.66" r="1.1"/>
<circle cx="249.76" cy="759.35" r="1.1"/>
<circle cx="249.16" cy="758.97" r="1.1"/>
<circle cx="248.95" cy="758.79" r="1.1"/>
<circle cx="249.07" cy="758.14" r="1.1"/>
<circle cx="249.32" cy="757.93" r="1.1"/>
<circle cx="249.13" cy="757.65" r="1.1"/>
<circle cx="249.64" cy="757.17" r="1.1"/>
<circle cx="249.20" cy="756.74" r="1.1"/>
<circle cx="249.40" cy="756.13" r="1.1"/>
<circle cx="249.53" cy="755.78" r="1.1"/>
<circle cx="249.30" cy="755.71" r="1.1"/>
<circle cx="249.70" cy="755.17" r="1.1"/>
<circle cx="249.63" cy="754.82" r="1.1"/>
<circle cx="249.09" cy="754.35" r="1.1"/>
<circle cx="248.95" cy="753.84" r="1.1"/>
<circle cx="249.03" cy="753.47" r="1.1"/>
<circle cx="249.07" cy="753.40" r="1.1"/>
<circle cx="249.93" cy="750.34" r="1.1"/>
<circle cx="249.39" cy="749.92" r="1.1"/>
<circle cx="249.73" cy="747.33" r="1.1"/>
<circle cx="249.39" cy="746.13" r="1.1"/>
<circle cx="249.77" cy="744.11" r="1.1"/>
<circle cx="249.89" cy="742.52" r="1.1"/>
<circle cx="249.08" cy="740.74" r="1.1"/>
<circle cx="249.40" cy="734.97" r="1.1"/>
<circle cx="249.48" cy="732.31" r="1.1"/>
<circle cx="249.58" cy="726.03" r="1.1"/>
<circle cx="249.58" cy="715.56" r="1.1"/>
<line x1="270.10" y1="717.30" x2="270.10" y2="738.70" stroke="#8c8c8c" stroke-width="0.8" />
<line x1="270.10" y1="755.90" x2="270.10" y2="763.40" stroke="#8c8c8c" stroke-width="0.8" />
<line x1="265.00" y1="717.30" x2="275.90" y2="717.30" stroke="#8c8c8c" stroke-width="1.0" />
<line x1="265.00" y1="763.40" x2="275.90" y2="763.40" stroke="#8c8c8c" stroke-width="1.0" />
<rect x="265.00" y="738.70" width="10.90" height="17.20" fill="none" stroke="#9a9a9a" stroke-width="0.9"/>
<line x1="265.00" y1="745.80" x2="275.90" y2="745.80" stroke="#9a9a9a" stroke-width="0.9" />
<circle cx="270.01" cy="762.62" r="1.1"/>
<circle cx="270.04" cy="761.65" r="1.1"/>
<circle cx="269.85" cy="759.79" r="1.1"/>
<circle cx="269.82" cy="758.54" r="1.1"/>
<circle cx="269.96" cy="758.14" r="1.1"/>
<circle cx="270.10" cy="756.02" r="1.1"/>
<circle cx="270.52" cy="755.42" r="1.1"/>
<circle cx="270.06" cy="754.34" r="1.1"/>
<circle cx="270.38" cy="752.70" r="1.1"/>
<circle cx="270.26" cy="751.16" r="1.1"/>
<circle cx="269.91" cy="750.41" r="1.1"/>
<circle cx="270.47" cy="749.39" r="1.1"/>
<circle cx="270.36" cy="747.49" r="1.1"/>
<circle cx="270.03" cy="746.85" r="1.1"/>
<circle cx="270.19" cy="744.43" r="1.1"/>
<circle cx="270.06" cy="743.80" r="1.1"/>
<circle cx="269.81" cy="740.68" r="1.1"/>
<circle cx="269.88" cy="740.13" r="1.1"/>
<circle cx="270.31" cy="731.18" r="1.1"/>
<circle cx="269.89" cy="726.35" r="1.1"/>
<line x1="290.50" y1="716.10" x2="290.50" y2="731.20" stroke="#8c8c8c" stroke-width="0.8" />
<line x1="290.50" y1="758.40" x2="290.50" y2="762.90" stroke="#8c8c8c" stroke-width="0.8" />
<line x1="285.20" y1="716.10" x2="296.00" y2="716.10" stroke="#8c8c8c" stroke-width="1.0" />
<line x1="285.20" y1="762.90" x2="296.00" y2="762.90" stroke="#8c8c8c" stroke-width="1.0" />
<rect x="285.20" y="731.20" width="10.80" height="27.20" fill="none" stroke="#9a9a9a" stroke-width="0.9"/>
<line x1="285.20" y1="750.30" x2="296.00" y2="750.30" stroke="#9a9a9a" stroke-width="0.9" />
<circle cx="290.50" cy="733.00" r="1.1"/>
<circle cx="290.50" cy="735.00" r="1.1"/>
<circle cx="290.50" cy="745.00" r="1.1"/>
<circle cx="290.50" cy="749.00" r="1.1"/>
<circle cx="290.50" cy="752.50" r="1.1"/>
<circle cx="290.50" cy="760.00" r="1.1"/>
<circle cx="290.50" cy="763.00" r="1.1"/>
<line x1="306.90" y1="756.40" x2="316.70" y2="756.40" stroke="#9a9a9a" stroke-width="0.9" />
<circle cx="311.80" cy="756.40" r="1.0"/>
<path d="M211.05,587.50 V581.75 H266.10 V587.50" fill="none" stroke="#000" stroke-width="2.7" stroke-linejoin="miter"/>
<text x="238.60" y="578.10" font-size="13.5" text-anchor="middle" letter-spacing="0.6">*</text>
<path d="M211.05,605.60 V599.55 H251.70 V605.60" fill="none" stroke="#000" stroke-width="2.7" stroke-linejoin="miter"/>
<text x="231.00" y="600.40" font-size="13.5" text-anchor="middle" letter-spacing="0.6">**</text>
<path d="M211.05,627.80 V621.60 H230.90 V627.80" fill="none" stroke="#000" stroke-width="2.7" stroke-linejoin="miter"/>
<text x="219.45" y="623.10" font-size="13.5" text-anchor="middle" letter-spacing="0.6">**</text>
<text x="0" y="0" transform="translate(206.10,787.90) scale(1,1.08)" font-size="15" text-anchor="middle" >Ctrl</text>
<text x="0" y="0" transform="translate(227.30,787.90) scale(1,1.08)" font-size="15" text-anchor="middle" >I</text>
<text x="0" y="0" transform="translate(245.25,787.90) scale(1,1.08)" font-size="15" text-anchor="middle" letter-spacing="-1.3" font-weight="bold" style="stroke-width:0">II</text>
<text x="0" y="0" transform="translate(267.05,787.90) scale(1,1.08)" font-size="15" text-anchor="middle" letter-spacing="-1.3" font-weight="bold" style="stroke-width:0">III</text>
<text x="0" y="0" transform="translate(290.50,787.90) scale(1,1.08)" font-size="15" text-anchor="middle"  font-weight="bold" style="stroke-width:0">IV</text>
<text x="0" y="0" transform="translate(312.00,787.90) scale(1,1.08)" font-size="15" text-anchor="middle" >V</text>
<text x="0" y="0" font-size="15.5" text-anchor="middle" textLength="160.2" lengthAdjust="spacingAndGlyphs" transform="translate(178.20,692.70) rotate(-90) scale(1,1.05)">AC(14:1)/AC(16:0) ratio</text>
<line x1="354.20" y1="650.00" x2="354.20" y2="768.50" stroke="#dedede" stroke-width="1" />
<line x1="354.20" y1="768.50" x2="497.50" y2="768.50" stroke="#dedede" stroke-width="1" />
<line x1="352.20" y1="670.00" x2="354.20" y2="670.00" stroke="#e2e2e2" stroke-width="1" />
<line x1="352.20" y1="690.00" x2="354.20" y2="690.00" stroke="#e2e2e2" stroke-width="1" />
<line x1="352.20" y1="710.00" x2="354.20" y2="710.00" stroke="#e2e2e2" stroke-width="1" />
<line x1="352.20" y1="729.50" x2="354.20" y2="729.50" stroke="#e2e2e2" stroke-width="1" />
<line x1="352.20" y1="749.00" x2="354.20" y2="749.00" stroke="#e2e2e2" stroke-width="1" />
<line x1="375.30" y1="737.70" x2="375.30" y2="741.50" stroke="#8c8c8c" stroke-width="0.8" />
<line x1="375.30" y1="747.00" x2="375.30" y2="747.80" stroke="#8c8c8c" stroke-width="0.8" />
<line x1="369.80" y1="737.70" x2="381.10" y2="737.70" stroke="#8c8c8c" stroke-width="1.0" />
<line x1="369.80" y1="747.80" x2="381.10" y2="747.80" stroke="#8c8c8c" stroke-width="1.0" />
<rect x="369.80" y="741.50" width="11.30" height="5.50" fill="none" stroke="#9a9a9a" stroke-width="0.9"/>
<line x1="369.80" y1="744.50" x2="381.10" y2="744.50" stroke="#9a9a9a" stroke-width="0.9" />
<circle cx="375.30" cy="721.90" r="1.1"/>
<circle cx="375.30" cy="724.40" r="1.1"/>
<circle cx="375.30" cy="726.90" r="1.1"/>
<circle cx="375.30" cy="730.70" r="1.1"/>
<circle cx="375.30" cy="732.70" r="1.1"/>
<circle cx="375.30" cy="735.20" r="1.1"/>
<circle cx="375.24" cy="747.77" r="1.1"/>
<circle cx="375.17" cy="747.64" r="1.1"/>
<circle cx="375.18" cy="747.55" r="1.1"/>
<circle cx="375.39" cy="747.38" r="1.1"/>
<circle cx="375.47" cy="747.36" r="1.1"/>
<circle cx="375.26" cy="747.26" r="1.1"/>
<circle cx="375.41" cy="747.06" r="1.1"/>
<circle cx="375.26" cy="746.94" r="1.1"/>
<circle cx="375.39" cy="746.83" r="1.1"/>
<circle cx="375.10" cy="746.60" r="1.1"/>
<circle cx="374.98" cy="746.28" r="1.1"/>
<circle cx="375.50" cy="746.03" r="1.1"/>
<circle cx="375.30" cy="745.70" r="1.1"/>
<circle cx="375.28" cy="745.47" r="1.1"/>
<circle cx="375.37" cy="745.34" r="1.1"/>
<circle cx="375.46" cy="745.02" r="1.1"/>
<circle cx="375.25" cy="744.65" r="1.1"/>
<circle cx="375.47" cy="744.46" r="1.1"/>
<circle cx="375.12" cy="743.95" r="1.1"/>
<circle cx="375.56" cy="743.17" r="1.1"/>
<circle cx="375.44" cy="742.54" r="1.1"/>
<circle cx="375.42" cy="741.89" r="1.1"/>
<circle cx="375.28" cy="741.28" r="1.1"/>
<circle cx="375.35" cy="740.26" r="1.1"/>
<circle cx="375.27" cy="739.07" r="1.1"/>
<line x1="396.00" y1="725.60" x2="396.00" y2="737.00" stroke="#8c8c8c" stroke-width="0.8" />
<line x1="396.00" y1="747.00" x2="396.00" y2="748.00" stroke="#8c8c8c" stroke-width="0.8" />
<line x1="390.50" y1="725.60" x2="401.80" y2="725.60" stroke="#8c8c8c" stroke-width="1.0" />
<line x1="390.50" y1="748.00" x2="401.80" y2="748.00" stroke="#8c8c8c" stroke-width="1.0" />
<rect x="390.50" y="737.00" width="11.30" height="10.00" fill="none" stroke="#9a9a9a" stroke-width="0.9"/>
<line x1="390.50" y1="743.00" x2="401.80" y2="743.00" stroke="#9a9a9a" stroke-width="0.9" />
<circle cx="396.00" cy="675.30" r="1.1"/>
<circle cx="396.00" cy="694.70" r="1.1"/>
<circle cx="396.00" cy="719.30" r="1.1"/>
<circle cx="396.00" cy="731.00" r="1.1"/>
<circle cx="396.08" cy="747.91" r="1.1"/>
<circle cx="395.91" cy="747.81" r="1.1"/>
<circle cx="395.98" cy="747.71" r="1.1"/>
<circle cx="395.97" cy="747.57" r="1.1"/>
<circle cx="396.16" cy="747.44" r="1.1"/>
<circle cx="396.06" cy="747.38" r="1.1"/>
<circle cx="395.96" cy="747.19" r="1.1"/>
<circle cx="396.18" cy="747.11" r="1.1"/>
<circle cx="396.02" cy="747.04" r="1.1"/>
<circle cx="396.19" cy="746.73" r="1.1"/>
<circle cx="396.01" cy="746.09" r="1.1"/>
<circle cx="396.05" cy="746.04" r="1.1"/>
<circle cx="396.15" cy="745.52" r="1.1"/>
<circle cx="396.09" cy="745.17" r="1.1"/>
<circle cx="396.01" cy="744.70" r="1.1"/>
<circle cx="396.30" cy="744.50" r="1.1"/>
<circle cx="396.12" cy="744.21" r="1.1"/>
<circle cx="396.18" cy="743.79" r="1.1"/>
<circle cx="396.33" cy="743.53" r="1.1"/>
<circle cx="395.70" cy="743.09" r="1.1"/>
<circle cx="395.93" cy="742.28" r="1.1"/>
<circle cx="395.94" cy="741.49" r="1.1"/>
<circle cx="396.13" cy="739.98" r="1.1"/>
<circle cx="395.84" cy="738.98" r="1.1"/>
<circle cx="396.16" cy="738.05" r="1.1"/>
<circle cx="396.01" cy="733.99" r="1.1"/>
<circle cx="396.11" cy="732.85" r="1.1"/>
<circle cx="395.89" cy="728.08" r="1.1"/>
<line x1="416.90" y1="731.90" x2="416.90" y2="737.70" stroke="#8c8c8c" stroke-width="0.8" />
<line x1="416.90" y1="747.00" x2="416.90" y2="748.00" stroke="#8c8c8c" stroke-width="0.8" />
<line x1="411.10" y1="731.90" x2="422.70" y2="731.90" stroke="#8c8c8c" stroke-width="1.0" />
<line x1="411.10" y1="748.00" x2="422.70" y2="748.00" stroke="#8c8c8c" stroke-width="1.0" />
<rect x="411.10" y="737.70" width="11.60" height="9.30" fill="none" stroke="#9a9a9a" stroke-width="0.9"/>
<line x1="411.10" y1="743.00" x2="422.70" y2="743.00" stroke="#9a9a9a" stroke-width="0.9" />
<circle cx="416.90" cy="663.90" r="1.1"/>
<circle cx="416.90" cy="686.10" r="1.1"/>
<circle cx="416.90" cy="708.00" r="1.1"/>
<circle cx="416.90" cy="720.00" r="1.1"/>
<circle cx="416.90" cy="723.00" r="1.1"/>
<circle cx="416.90" cy="727.00" r="1.1"/>
<circle cx="417.01" cy="747.99" r="1.1"/>
<circle cx="416.95" cy="747.83" r="1.1"/>
<circle cx="416.92" cy="747.76" r="1.1"/>
<circle cx="417.08" cy="747.69" r="1.1"/>
<circle cx="416.95" cy="747.59" r="1.1"/>
<circle cx="417.02" cy="747.45" r="1.1"/>
<circle cx="416.82" cy="747.38" r="1.1"/>
<circle cx="416.76" cy="747.28" r="1.1"/>
<circle cx="416.84" cy="747.16" r="1.1"/>
<circle cx="416.81" cy="747.06" r="1.1"/>
<circle cx="416.81" cy="747.01" r="1.1"/>
<circle cx="416.68" cy="746.74" r="1.1"/>
<circle cx="417.05" cy="746.57" r="1.1"/>
<circle cx="416.72" cy="746.21" r="1.1"/>
<circle cx="416.89" cy="745.91" r="1.1"/>
<circle cx="417.00" cy="745.59" r="1.1"/>
<circle cx="416.80" cy="745.24" r="1.1"/>
<circle cx="417.15" cy="744.88" r="1.1"/>
<circle cx="417.13" cy="744.84" r="1.1"/>
<circle cx="417.10" cy="744.31" r="1.1"/>
<circle cx="417.13" cy="744.25" r="1.1"/>
<circle cx="416.56" cy="743.82" r="1.1"/>
<circle cx="417.21" cy="743.71" r="1.1"/>
<circle cx="416.73" cy="743.24" r="1.1"/>
<circle cx="416.65" cy="743.11" r="1.1"/>
<circle cx="417.09" cy="742.44" r="1.1"/>
<circle cx="416.66" cy="741.60" r="1.1"/>
<circle cx="417.10" cy="740.42" r="1.1"/>
<circle cx="417.17" cy="740.22" r="1.1"/>
<circle cx="417.10" cy="739.13" r="1.1"/>
<circle cx="417.17" cy="738.33" r="1.1"/>
<circle cx="417.03" cy="737.22" r="1.1"/>
<circle cx="416.97" cy="736.54" r="1.1"/>
<circle cx="416.99" cy="734.33" r="1.1"/>
<circle cx="417.05" cy="732.83" r="1.1"/>
<line x1="437.80" y1="735.20" x2="437.80" y2="739.50" stroke="#8c8c8c" stroke-width="0.8" />
<line x1="437.80" y1="747.00" x2="437.80" y2="748.00" stroke="#8c8c8c" stroke-width="0.8" />
<line x1="432.00" y1="735.20" x2="443.40" y2="735.20" stroke="#8c8c8c" stroke-width="1.0" />
<line x1="432.00" y1="748.00" x2="443.40" y2="748.00" stroke="#8c8c8c" stroke-width="1.0" />
<rect x="432.00" y="739.50" width="11.40" height="7.50" fill="none" stroke="#9a9a9a" stroke-width="0.9"/>
<line x1="432.00" y1="744.00" x2="443.40" y2="744.00" stroke="#9a9a9a" stroke-width="0.9" />
<circle cx="437.80" cy="713.00" r="1.1"/>
<circle cx="437.80" cy="721.00" r="1.1"/>
<circle cx="437.80" cy="727.70" r="1.1"/>
<circle cx="437.71" cy="747.93" r="1.1"/>
<circle cx="437.66" cy="747.84" r="1.1"/>
<circle cx="437.63" cy="747.67" r="1.1"/>
<circle cx="437.67" cy="747.54" r="1.1"/>
<circle cx="437.80" cy="747.40" r="1.1"/>
<circle cx="437.94" cy="747.26" r="1.1"/>
<circle cx="437.93" cy="747.20" r="1.1"/>
<circle cx="437.82" cy="747.00" r="1.1"/>
<circle cx="438.03" cy="746.65" r="1.1"/>
<circle cx="437.74" cy="746.44" r="1.1"/>
<circle cx="437.51" cy="745.96" r="1.1"/>
<circle cx="437.89" cy="745.76" r="1.1"/>
<circle cx="437.88" cy="745.64" r="1.1"/>
<circle cx="438.10" cy="745.15" r="1.1"/>
<circle cx="438.13" cy="744.95" r="1.1"/>
<circle cx="437.79" cy="744.60" r="1.1"/>
<circle cx="437.48" cy="744.18" r="1.1"/>
<circle cx="437.89" cy="743.80" r="1.1"/>
<circle cx="438.05" cy="743.25" r="1.1"/>
<circle cx="437.78" cy="742.32" r="1.1"/>
<circle cx="437.99" cy="741.28" r="1.1"/>
<circle cx="437.76" cy="740.66" r="1.1"/>
<circle cx="437.84" cy="739.57" r="1.1"/>
<circle cx="437.72" cy="737.22" r="1.1"/>
<circle cx="437.76" cy="735.50" r="1.1"/>
<line x1="458.50" y1="738.20" x2="458.50" y2="741.50" stroke="#8c8c8c" stroke-width="0.8" />
<line x1="458.50" y1="747.60" x2="458.50" y2="748.00" stroke="#8c8c8c" stroke-width="0.8" />
<line x1="452.90" y1="738.20" x2="464.30" y2="738.20" stroke="#8c8c8c" stroke-width="1.0" />
<line x1="452.90" y1="748.00" x2="464.30" y2="748.00" stroke="#8c8c8c" stroke-width="1.0" />
<rect x="452.90" y="741.50" width="11.40" height="6.10" fill="none" stroke="#9a9a9a" stroke-width="0.9"/>
<line x1="452.90" y1="744.50" x2="464.30" y2="744.50" stroke="#9a9a9a" stroke-width="0.9" />
<circle cx="458.41" cy="747.93" r="1.1"/>
<circle cx="458.68" cy="747.80" r="1.1"/>
<circle cx="458.61" cy="747.65" r="1.1"/>
<circle cx="458.37" cy="747.34" r="1.1"/>
<circle cx="458.56" cy="746.59" r="1.1"/>
<circle cx="458.69" cy="745.56" r="1.1"/>
<circle cx="458.65" cy="745.24" r="1.1"/>
<circle cx="458.53" cy="743.17" r="1.1"/>
<circle cx="458.36" cy="742.93" r="1.1"/>
<circle cx="458.38" cy="741.48" r="1.1"/>
<line x1="476.00" y1="742.00" x2="486.20" y2="742.00" stroke="#9a9a9a" stroke-width="0.9" />
<circle cx="481.10" cy="742.00" r="1.0"/>
<text x="0" y="0" transform="translate(373.20,787.90) scale(1,1.08)" font-size="15" text-anchor="middle" >Ctrl</text>
<text x="0" y="0" transform="translate(395.50,787.90) scale(1,1.08)" font-size="15" text-anchor="middle" >I</text>
<text x="0" y="0" transform="translate(415.90,787.90) scale(1,1.08)" font-size="15" text-anchor="middle" letter-spacing="-1.0">II</text>
<text x="0" y="0" transform="translate(436.50,787.90) scale(1,1.08)" font-size="15" text-anchor="middle" letter-spacing="-1.0">III</text>
<text x="0" y="0" transform="translate(460.10,787.90) scale(1,1.08)" font-size="15" text-anchor="middle" >IV</text>
<text x="0" y="0" transform="translate(481.80,787.90) scale(1,1.08)" font-size="15" text-anchor="middle" >V</text>
<text x="0" y="0" font-size="15.5" text-anchor="middle" textLength="153.0" lengthAdjust="spacingAndGlyphs" transform="translate(346.20,696.30) rotate(-90) scale(1,1.05)">AC(8:0)/AC(16:0) ratio</text>
<line x1="525.80" y1="650.40" x2="525.80" y2="768.30" stroke="#dedede" stroke-width="1" />
<line x1="525.80" y1="768.30" x2="672.40" y2="768.30" stroke="#dedede" stroke-width="1" />
<line x1="523.80" y1="667.20" x2="525.80" y2="667.20" stroke="#e2e2e2" stroke-width="1" />
<line x1="523.80" y1="684.10" x2="525.80" y2="684.10" stroke="#e2e2e2" stroke-width="1" />
<line x1="523.80" y1="701.40" x2="525.80" y2="701.40" stroke="#e2e2e2" stroke-width="1" />
<line x1="523.80" y1="718.30" x2="525.80" y2="718.30" stroke="#e2e2e2" stroke-width="1" />
<line x1="523.80" y1="735.20" x2="525.80" y2="735.20" stroke="#e2e2e2" stroke-width="1" />
<line x1="523.80" y1="752.00" x2="525.80" y2="752.00" stroke="#e2e2e2" stroke-width="1" />
<line x1="547.40" y1="721.90" x2="547.40" y2="730.20" stroke="#8c8c8c" stroke-width="0.8" />
<line x1="547.40" y1="744.20" x2="547.40" y2="756.70" stroke="#8c8c8c" stroke-width="0.8" />
<line x1="542.00" y1="721.90" x2="553.20" y2="721.90" stroke="#8c8c8c" stroke-width="1.0" />
<line x1="542.00" y1="756.70" x2="553.20" y2="756.70" stroke="#8c8c8c" stroke-width="1.0" />
<rect x="542.00" y="730.20" width="11.20" height="14.00" fill="none" stroke="#9a9a9a" stroke-width="0.9"/>
<line x1="542.00" y1="738.50" x2="553.20" y2="738.50" stroke="#9a9a9a" stroke-width="0.9" />
<circle cx="547.44" cy="754.78" r="1.1"/>
<circle cx="547.51" cy="753.25" r="1.1"/>
<circle cx="547.44" cy="750.64" r="1.1"/>
<circle cx="547.45" cy="749.17" r="1.1"/>
<circle cx="547.44" cy="746.92" r="1.1"/>
<circle cx="547.29" cy="744.86" r="1.1"/>
<circle cx="547.37" cy="743.78" r="1.1"/>
<circle cx="547.13" cy="743.08" r="1.1"/>
<circle cx="547.09" cy="742.82" r="1.1"/>
<circle cx="547.68" cy="741.81" r="1.1"/>
<circle cx="547.31" cy="741.25" r="1.1"/>
<circle cx="547.59" cy="740.51" r="1.1"/>
<circle cx="547.24" cy="740.04" r="1.1"/>
<circle cx="547.35" cy="739.58" r="1.1"/>
<circle cx="547.35" cy="738.93" r="1.1"/>
<circle cx="547.69" cy="737.91" r="1.1"/>
<circle cx="547.45" cy="737.53" r="1.1"/>
<circle cx="547.14" cy="736.62" r="1.1"/>
<circle cx="547.45" cy="734.99" r="1.1"/>
<circle cx="547.36" cy="733.96" r="1.1"/>
<circle cx="547.32" cy="733.88" r="1.1"/>
<circle cx="547.69" cy="732.42" r="1.1"/>
<circle cx="547.38" cy="731.14" r="1.1"/>
<circle cx="547.13" cy="730.74" r="1.1"/>
<circle cx="547.29" cy="729.31" r="1.1"/>
<circle cx="547.22" cy="728.61" r="1.1"/>
<circle cx="547.47" cy="727.43" r="1.1"/>
<circle cx="547.57" cy="725.88" r="1.1"/>
<circle cx="547.54" cy="724.54" r="1.1"/>
<circle cx="547.22" cy="723.10" r="1.1"/>
<line x1="568.20" y1="704.80" x2="568.20" y2="731.30" stroke="#8c8c8c" stroke-width="0.8" />
<line x1="568.20" y1="751.00" x2="568.20" y2="758.00" stroke="#8c8c8c" stroke-width="0.8" />
<line x1="562.70" y1="704.80" x2="573.90" y2="704.80" stroke="#8c8c8c" stroke-width="1.0" />
<line x1="562.70" y1="758.00" x2="573.90" y2="758.00" stroke="#8c8c8c" stroke-width="1.0" />
<rect x="562.70" y="731.30" width="11.20" height="19.70" fill="none" stroke="#9a9a9a" stroke-width="0.9"/>
<line x1="562.70" y1="741.10" x2="573.90" y2="741.10" stroke="#9a9a9a" stroke-width="0.9" />
<circle cx="568.20" cy="665.40" r="1.1"/>
<circle cx="568.10" cy="757.37" r="1.1"/>
<circle cx="568.08" cy="756.48" r="1.1"/>
<circle cx="568.30" cy="756.21" r="1.1"/>
<circle cx="568.33" cy="754.75" r="1.1"/>
<circle cx="568.05" cy="753.86" r="1.1"/>
<circle cx="568.28" cy="753.07" r="1.1"/>
<circle cx="568.36" cy="752.35" r="1.1"/>
<circle cx="568.37" cy="751.65" r="1.1"/>
<circle cx="567.87" cy="750.41" r="1.1"/>
<circle cx="568.30" cy="750.16" r="1.1"/>
<circle cx="567.92" cy="748.68" r="1.1"/>
<circle cx="568.35" cy="748.27" r="1.1"/>
<circle cx="568.44" cy="747.56" r="1.1"/>
<circle cx="567.90" cy="746.47" r="1.1"/>
<circle cx="568.25" cy="745.75" r="1.1"/>
<circle cx="568.32" cy="744.86" r="1.1"/>
<circle cx="568.40" cy="744.28" r="1.1"/>
<circle cx="568.30" cy="743.28" r="1.1"/>
<circle cx="568.14" cy="742.23" r="1.1"/>
<circle cx="568.39" cy="741.61" r="1.1"/>
<circle cx="568.39" cy="740.33" r="1.1"/>
<circle cx="568.06" cy="739.82" r="1.1"/>
<circle cx="568.52" cy="739.42" r="1.1"/>
<circle cx="568.42" cy="738.08" r="1.1"/>
<circle cx="568.27" cy="737.56" r="1.1"/>
<circle cx="568.42" cy="736.22" r="1.1"/>
<circle cx="568.07" cy="735.71" r="1.1"/>
<circle cx="568.46" cy="735.03" r="1.1"/>
<circle cx="568.32" cy="734.26" r="1.1"/>
<circle cx="568.47" cy="733.26" r="1.1"/>
<circle cx="568.05" cy="732.27" r="1.1"/>
<circle cx="568.04" cy="732.12" r="1.1"/>
<circle cx="568.23" cy="729.90" r="1.1"/>
<circle cx="568.34" cy="725.28" r="1.1"/>
<circle cx="568.32" cy="724.53" r="1.1"/>
<circle cx="568.34" cy="718.67" r="1.1"/>
<circle cx="568.12" cy="716.16" r="1.1"/>
<circle cx="568.31" cy="711.92" r="1.1"/>
<circle cx="568.35" cy="709.16" r="1.1"/>
<circle cx="568.05" cy="706.96" r="1.1"/>
<line x1="588.90" y1="714.40" x2="588.90" y2="733.30" stroke="#8c8c8c" stroke-width="0.8" />
<line x1="588.90" y1="748.40" x2="588.90" y2="758.70" stroke="#8c8c8c" stroke-width="0.8" />
<line x1="583.50" y1="714.40" x2="594.60" y2="714.40" stroke="#8c8c8c" stroke-width="1.0" />
<line x1="583.50" y1="758.70" x2="594.60" y2="758.70" stroke="#8c8c8c" stroke-width="1.0" />
<rect x="583.50" y="733.30" width="11.10" height="15.10" fill="none" stroke="#9a9a9a" stroke-width="0.9"/>
<line x1="583.50" y1="739.80" x2="594.60" y2="739.80" stroke="#9a9a9a" stroke-width="0.9" />
<circle cx="588.90" cy="710.50" r="1.1"/>
<circle cx="589.01" cy="758.13" r="1.1"/>
<circle cx="588.99" cy="757.46" r="1.1"/>
<circle cx="588.80" cy="755.68" r="1.1"/>
<circle cx="588.97" cy="754.98" r="1.1"/>
<circle cx="588.79" cy="754.10" r="1.1"/>
<circle cx="588.99" cy="753.29" r="1.1"/>
<circle cx="588.89" cy="751.70" r="1.1"/>
<circle cx="589.01" cy="751.40" r="1.1"/>
<circle cx="588.80" cy="749.66" r="1.1"/>
<circle cx="589.05" cy="748.83" r="1.1"/>
<circle cx="588.91" cy="747.89" r="1.1"/>
<circle cx="588.96" cy="747.55" r="1.1"/>
<circle cx="588.70" cy="747.14" r="1.1"/>
<circle cx="589.03" cy="746.58" r="1.1"/>
<circle cx="588.94" cy="745.90" r="1.1"/>
<circle cx="588.91" cy="745.30" r="1.1"/>
<circle cx="588.60" cy="744.87" r="1.1"/>
<circle cx="588.82" cy="743.81" r="1.1"/>
<circle cx="588.99" cy="743.75" r="1.1"/>
<circle cx="588.67" cy="742.79" r="1.1"/>
<circle cx="588.80" cy="742.32" r="1.1"/>
<circle cx="588.58" cy="741.80" r="1.1"/>
<circle cx="589.23" cy="741.50" r="1.1"/>
<circle cx="588.89" cy="740.45" r="1.1"/>
<circle cx="588.74" cy="740.05" r="1.1"/>
<circle cx="588.85" cy="739.46" r="1.1"/>
<circle cx="589.08" cy="738.96" r="1.1"/>
<circle cx="589.21" cy="738.58" r="1.1"/>
<circle cx="588.59" cy="738.39" r="1.1"/>
<circle cx="588.69" cy="737.98" r="1.1"/>
<circle cx="588.60" cy="737.60" r="1.1"/>
<circle cx="589.15" cy="736.96" r="1.1"/>
<circle cx="589.20" cy="736.57" r="1.1"/>
<circle cx="588.61" cy="735.94" r="1.1"/>
<circle cx="588.83" cy="735.64" r="1.1"/>
<circle cx="589.21" cy="735.41" r="1.1"/>
<circle cx="588.94" cy="734.92" r="1.1"/>
<circle cx="589.20" cy="734.32" r="1.1"/>
<circle cx="588.83" cy="733.88" r="1.1"/>
<circle cx="588.67" cy="733.54" r="1.1"/>
<circle cx="589.08" cy="731.47" r="1.1"/>
<circle cx="588.73" cy="730.99" r="1.1"/>
<circle cx="588.85" cy="729.04" r="1.1"/>
<circle cx="589.05" cy="725.92" r="1.1"/>
<circle cx="588.73" cy="724.16" r="1.1"/>
<circle cx="588.98" cy="722.36" r="1.1"/>
<circle cx="589.08" cy="720.74" r="1.1"/>
<circle cx="588.77" cy="719.96" r="1.1"/>
<circle cx="589.06" cy="716.75" r="1.1"/>
<circle cx="588.83" cy="715.01" r="1.1"/>
<line x1="609.70" y1="714.40" x2="609.70" y2="729.40" stroke="#8c8c8c" stroke-width="0.8" />
<line x1="609.70" y1="747.60" x2="609.70" y2="755.40" stroke="#8c8c8c" stroke-width="0.8" />
<line x1="604.50" y1="714.40" x2="615.40" y2="714.40" stroke="#8c8c8c" stroke-width="1.0" />
<line x1="604.50" y1="755.40" x2="615.40" y2="755.40" stroke="#8c8c8c" stroke-width="1.0" />
<rect x="604.50" y="729.40" width="10.90" height="18.20" fill="none" stroke="#9a9a9a" stroke-width="0.9"/>
<line x1="604.50" y1="738.50" x2="615.40" y2="738.50" stroke="#9a9a9a" stroke-width="0.9" />
<circle cx="609.70" cy="653.50" r="1.1"/>
<circle cx="609.79" cy="754.74" r="1.1"/>
<circle cx="609.64" cy="754.17" r="1.1"/>
<circle cx="609.56" cy="752.89" r="1.1"/>
<circle cx="609.58" cy="751.52" r="1.1"/>
<circle cx="609.57" cy="750.68" r="1.1"/>
<circle cx="609.52" cy="749.07" r="1.1"/>
<circle cx="609.59" cy="747.92" r="1.1"/>
<circle cx="609.98" cy="747.57" r="1.1"/>
<circle cx="609.98" cy="746.54" r="1.1"/>
<circle cx="609.95" cy="745.12" r="1.1"/>
<circle cx="609.67" cy="744.88" r="1.1"/>
<circle cx="609.98" cy="744.05" r="1.1"/>
<circle cx="609.78" cy="742.54" r="1.1"/>
<circle cx="609.60" cy="742.01" r="1.1"/>
<circle cx="609.69" cy="740.82" r="1.1"/>
<circle cx="609.47" cy="740.12" r="1.1"/>
<circle cx="609.41" cy="739.61" r="1.1"/>
<circle cx="609.73" cy="738.31" r="1.1"/>
<circle cx="609.94" cy="737.94" r="1.1"/>
<circle cx="609.64" cy="736.97" r="1.1"/>
<circle cx="609.55" cy="736.20" r="1.1"/>
<circle cx="609.59" cy="734.74" r="1.1"/>
<circle cx="609.69" cy="734.45" r="1.1"/>
<circle cx="609.96" cy="733.46" r="1.1"/>
<circle cx="610.01" cy="732.77" r="1.1"/>
<circle cx="609.96" cy="731.95" r="1.1"/>
<circle cx="609.51" cy="730.55" r="1.1"/>
<circle cx="609.56" cy="729.85" r="1.1"/>
<circle cx="609.59" cy="728.85" r="1.1"/>
<circle cx="609.88" cy="726.48" r="1.1"/>
<circle cx="609.85" cy="722.98" r="1.1"/>
<circle cx="609.62" cy="722.76" r="1.1"/>
<circle cx="609.54" cy="718.91" r="1.1"/>
<circle cx="609.63" cy="717.13" r="1.1"/>
<circle cx="609.53" cy="714.45" r="1.1"/>
<line x1="630.90" y1="715.70" x2="630.90" y2="731.30" stroke="#8c8c8c" stroke-width="0.8" />
<line x1="630.90" y1="747.60" x2="630.90" y2="754.10" stroke="#8c8c8c" stroke-width="0.8" />
<line x1="625.20" y1="715.70" x2="636.60" y2="715.70" stroke="#8c8c8c" stroke-width="1.0" />
<line x1="625.20" y1="754.10" x2="636.60" y2="754.10" stroke="#8c8c8c" stroke-width="1.0" />
<rect x="625.20" y="731.30" width="11.40" height="16.30" fill="none" stroke="#9a9a9a" stroke-width="0.9"/>
<line x1="625.20" y1="739.80" x2="636.60" y2="739.80" stroke="#9a9a9a" stroke-width="0.9" />
<circle cx="630.84" cy="751.48" r="1.1"/>
<circle cx="630.71" cy="750.39" r="1.1"/>
<circle cx="630.92" cy="745.44" r="1.1"/>
<circle cx="630.86" cy="744.52" r="1.1"/>
<circle cx="630.71" cy="740.03" r="1.1"/>
<circle cx="630.65" cy="738.18" r="1.1"/>
<circle cx="631.08" cy="736.46" r="1.1"/>
<circle cx="630.69" cy="732.12" r="1.1"/>
<circle cx="630.74" cy="730.68" r="1.1"/>
<circle cx="630.90" cy="718.75" r="1.1"/>
<line x1="646.50" y1="719.10" x2="656.90" y2="719.10" stroke="#9a9a9a" stroke-width="0.9" />
<circle cx="651.70" cy="719.10" r="1.0"/>
<text x="0" y="0" transform="translate(543.40,787.30) scale(1,1.08)" font-size="15" text-anchor="middle" >Ctrl</text>
<text x="0" y="0" transform="translate(568.20,787.30) scale(1,1.08)" font-size="15" text-anchor="middle" >I</text>
<text x="0" y="0" transform="translate(588.40,787.30) scale(1,1.08)" font-size="15" text-anchor="middle" letter-spacing="-1.0">II</text>
<text x="0" y="0" transform="translate(607.30,787.30) scale(1,1.08)" font-size="15" text-anchor="middle" letter-spacing="-1.0">III</text>
<text x="0" y="0" transform="translate(629.70,787.30) scale(1,1.08)" font-size="15" text-anchor="middle" >IV</text>
<text x="0" y="0" transform="translate(653.50,787.30) scale(1,1.08)" font-size="15" text-anchor="middle" >V</text>
<text x="0" y="0" font-size="15.5" text-anchor="middle" textLength="160.2" lengthAdjust="spacingAndGlyphs" transform="translate(518.60,692.70) rotate(-90) scale(1,1.05)">AC(14:1)/AC(16:0) ratio</text>
<text x="0" y="0" transform="translate(16.50,14.00) scale(1,1.08)" font-size="15" text-anchor="start" >A</text>
<text x="0" y="0" transform="translate(170.30,14.00) scale(1,1.08)" font-size="15" text-anchor="start" >B</text>
<text x="0" y="0" transform="translate(335.80,13.60) scale(1,1.08)" font-size="15" text-anchor="start" >C</text>
<text x="0" y="0" transform="translate(501.00,13.60) scale(1,1.08)" font-size="15" text-anchor="start" >D</text>
<text x="0" y="0" transform="translate(16.50,298.30) scale(1,1.08)" font-size="15" text-anchor="start" >E</text>
<text x="0" y="0" transform="translate(170.50,298.40) scale(1,1.08)" font-size="15" text-anchor="start" >F</text>
<text x="0" y="0" transform="translate(335.60,298.40) scale(1,1.08)" font-size="15" text-anchor="start" >G</text>
<text x="0" y="0" transform="translate(500.60,298.40) scale(1,1.08)" font-size="15" text-anchor="start" >H</text>
<text x="0" y="0" transform="translate(15.80,565.00) scale(1,1.08)" font-size="15" text-anchor="start" >I.</text>
<text x="0" y="0" transform="translate(335.50,565.00) scale(1,1.08)" font-size="15" text-anchor="start" >J.</text>
<text x="0" y="0" transform="translate(59.40,14.00) scale(1,1.08)" font-size="15">1<tspan dx="7.78"> cohort</tspan></text>
<text x="0" y="0" transform="translate(67.74,8.90) scale(1,0.86)" font-size="10">st</text>
<text x="0" y="0" transform="translate(221.40,14.00) scale(1,1.08)" font-size="15">2<tspan dx="11.12"> cohort</tspan></text>
<text x="0" y="0" transform="translate(229.74,8.90) scale(1,0.86)" font-size="10">nd</text>
<text x="0" y="0" transform="translate(379.00,13.60) scale(1,1.08)" font-size="15">1<tspan dx="7.78"> cohort</tspan></text>
<text x="0" y="0" transform="translate(387.34,8.50) scale(1,0.86)" font-size="10">st</text>
<text x="0" y="0" transform="translate(549.00,13.60) scale(1,1.08)" font-size="15">2<tspan dx="11.12"> cohort</tspan></text>
<text x="0" y="0" transform="translate(557.34,8.50) scale(1,0.86)" font-size="10">nd</text>
<text x="0" y="0" transform="translate(60.00,298.30) scale(1,1.08)" font-size="15">1<tspan dx="7.78"> cohort</tspan></text>
<text x="0" y="0" transform="translate(68.34,293.20) scale(1,0.86)" font-size="10">st</text>
<text x="0" y="0" transform="translate(221.20,298.40) scale(1,1.08)" font-size="15">2<tspan dx="11.12"> cohort</tspan></text>
<text x="0" y="0" transform="translate(229.54,293.30) scale(1,0.86)" font-size="10">nd</text>
<text x="0" y="0" transform="translate(378.70,298.40) scale(1,1.08)" font-size="15">1<tspan dx="7.78"> cohort</tspan></text>
<text x="0" y="0" transform="translate(387.04,293.30) scale(1,0.86)" font-size="10">st</text>
<text x="0" y="0" transform="translate(549.00,298.40) scale(1,1.08)" font-size="15">2<tspan dx="11.12"> cohort</tspan></text>
<text x="0" y="0" transform="translate(557.34,293.30) scale(1,0.86)" font-size="10">nd</text>
<text x="0" y="0" transform="translate(59.40,565.00) scale(1,1.08)" font-size="15">1<tspan dx="7.78"> cohort</tspan></text>
<text x="0" y="0" transform="translate(67.74,559.90) scale(1,0.86)" font-size="10">st</text>
<text x="0" y="0" transform="translate(378.00,565.00) scale(1,1.08)" font-size="15">2<tspan dx="11.12"> cohort</tspan></text>
<text x="0" y="0" transform="translate(386.34,559.90) scale(1,0.86)" font-size="10">nd</text>
</g>
</svg>
</body></html>
